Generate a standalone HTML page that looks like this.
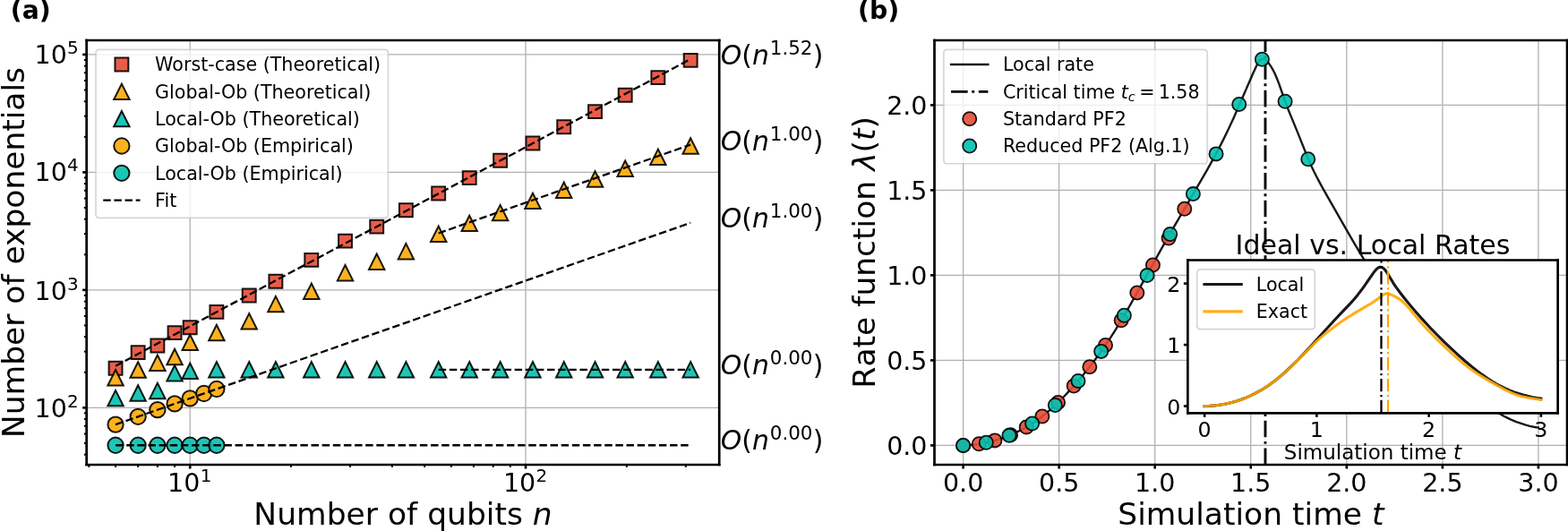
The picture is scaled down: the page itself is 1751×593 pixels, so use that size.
<!DOCTYPE html>
<html><head><meta charset="utf-8"><style>
html,body{margin:0;padding:0;background:#fff;}
body{width:1751px;height:593px;overflow:hidden;}
svg{display:block;}
text{font-family:"DejaVu Sans",sans-serif;}
</style></head><body>
<svg width="1751" height="593" viewBox="0 0 1751 593">
 
 <defs>
  <style type="text/css">*{stroke-linejoin: round; stroke-linecap: butt}</style>
 </defs>
 <g id="figure_1">
  <g id="patch_1">
   <path d="M 0 593 
L 1751 593 
L 1751 0 
L 0 0 
z
" style="fill: #ffffff"/>
  </g>
  <g id="axes_1">
   <g id="patch_2">
    <path d="M 96.66 519 
L 803.21 519 
L 803.21 45 
L 96.66 45 
z
" style="fill: #ffffff"/>
   </g>
   <g id="matplotlib.axis_1">
    <g id="xtick_1">
     <g id="line2d_1">
      <path d="M 212.2 519 
L 212.2 45 
" clip-path="url(#p42ef47f563)" style="fill: none; stroke: #b0b0b0; stroke-width: 1.3; stroke-linecap: square"/>
     </g>
     <g id="line2d_2">
      
      <g>
       <path d="M 0 0 
L 0 4.5 
" transform="translate(212.2 519)" style="stroke: #000000; stroke-width: 2.6"/>
      </g>
     </g>
     <g id="text_1">
      
      <g transform="translate(187.12 549.1000)">
       <text>
        <tspan x="0" y="-0.1" style="font-size: 28.5px; font-family: 'DejaVu Sans'">1</tspan>
        <tspan x="18.132568" y="-0.1" style="font-size: 28.5px; font-family: 'DejaVu Sans'">0</tspan>
        <tspan x="36.542676" y="-11.201563" style="font-size: 19.95px; font-family: 'DejaVu Sans'">1</tspan>
       </text>
      </g>
     </g>
    </g>
    <g id="xtick_2">
     <g id="line2d_3">
      <path d="M 587 519 
L 587 45 
" clip-path="url(#p42ef47f563)" style="fill: none; stroke: #b0b0b0; stroke-width: 1.3; stroke-linecap: square"/>
     </g>
     <g id="line2d_4">
      <g>
       <path d="M 0 0 
L 0 4.5 
" transform="translate(587 519)" style="stroke: #000000; stroke-width: 2.6"/>
      </g>
     </g>
     <g id="text_2">
      
      <g transform="translate(561.92 549.8266)">
       <text>
        <tspan x="0" y="-0.826563" style="font-size: 28.5px; font-family: 'DejaVu Sans'">1</tspan>
        <tspan x="18.132568" y="-0.826563" style="font-size: 28.5px; font-family: 'DejaVu Sans'">0</tspan>
        <tspan x="36.542676" y="-11.928125" style="font-size: 19.95px; font-family: 'DejaVu Sans'">2</tspan>
       </text>
      </g>
     </g>
    </g>
    <g id="xtick_3">
     <g id="line2d_5">
      
      <g>
       <path d="M 0 0 
L 0 2.8 
" transform="translate(99.373958 519)" style="stroke: #000000; stroke-width: 2"/>
      </g>
     </g>
    </g>
    <g id="xtick_4">
     <g id="line2d_6">
      <g>
       <path d="M 0 0 
L 0 2.8 
" transform="translate(129.051089 519)" style="stroke: #000000; stroke-width: 2"/>
      </g>
     </g>
    </g>
    <g id="xtick_5">
     <g id="line2d_7">
      <g>
       <path d="M 0 0 
L 0 2.8 
" transform="translate(154.142745 519)" style="stroke: #000000; stroke-width: 2"/>
      </g>
     </g>
    </g>
    <g id="xtick_6">
     <g id="line2d_8">
      <g>
       <path d="M 0 0 
L 0 2.8 
" transform="translate(175.878127 519)" style="stroke: #000000; stroke-width: 2"/>
      </g>
     </g>
    </g>
    <g id="xtick_7">
     <g id="line2d_9">
      <g>
       <path d="M 0 0 
L 0 2.8 
" transform="translate(195.050093 519)" style="stroke: #000000; stroke-width: 2"/>
      </g>
     </g>
    </g>
    <g id="xtick_8">
     <g id="line2d_10">
      <g>
       <path d="M 0 0 
L 0 2.8 
" transform="translate(325.026042 519)" style="stroke: #000000; stroke-width: 2"/>
      </g>
     </g>
    </g>
    <g id="xtick_9">
     <g id="line2d_11">
      <g>
       <path d="M 0 0 
L 0 2.8 
" transform="translate(391.025046 519)" style="stroke: #000000; stroke-width: 2"/>
      </g>
     </g>
    </g>
    <g id="xtick_10">
     <g id="line2d_12">
      <g>
       <path d="M 0 0 
L 0 2.8 
" transform="translate(437.852085 519)" style="stroke: #000000; stroke-width: 2"/>
      </g>
     </g>
    </g>
    <g id="xtick_11">
     <g id="line2d_13">
      <g>
       <path d="M 0 0 
L 0 2.8 
" transform="translate(474.173958 519)" style="stroke: #000000; stroke-width: 2"/>
      </g>
     </g>
    </g>
    <g id="xtick_12">
     <g id="line2d_14">
      <g>
       <path d="M 0 0 
L 0 2.8 
" transform="translate(503.851089 519)" style="stroke: #000000; stroke-width: 2"/>
      </g>
     </g>
    </g>
    <g id="xtick_13">
     <g id="line2d_15">
      <g>
       <path d="M 0 0 
L 0 2.8 
" transform="translate(528.942745 519)" style="stroke: #000000; stroke-width: 2"/>
      </g>
     </g>
    </g>
    <g id="xtick_14">
     <g id="line2d_16">
      <g>
       <path d="M 0 0 
L 0 2.8 
" transform="translate(550.678127 519)" style="stroke: #000000; stroke-width: 2"/>
      </g>
     </g>
    </g>
    <g id="xtick_15">
     <g id="line2d_17">
      <g>
       <path d="M 0 0 
L 0 2.8 
" transform="translate(569.850093 519)" style="stroke: #000000; stroke-width: 2"/>
      </g>
     </g>
    </g>
    <g id="xtick_16">
     <g id="line2d_18">
      <g>
       <path d="M 0 0 
L 0 2.8 
" transform="translate(699.826042 519)" style="stroke: #000000; stroke-width: 2"/>
      </g>
     </g>
    </g>
    <g id="xtick_17">
     <g id="line2d_19">
      <g>
       <path d="M 0 0 
L 0 2.8 
" transform="translate(765.825046 519)" style="stroke: #000000; stroke-width: 2"/>
      </g>
     </g>
    </g>
    <g id="text_3">
     
     <g transform="translate(283.36925 585.964656)">
      <text>
       <tspan x="0" y="-0.171875" style="font-size: 34.45px; font-family: 'DejaVu Sans'">N</tspan>
       <tspan x="25.807617" y="-0.171875" style="font-size: 34.45px; font-family: 'DejaVu Sans'">u</tspan>
       <tspan x="47.67334" y="-0.171875" style="font-size: 34.45px; font-family: 'DejaVu Sans'">m</tspan>
       <tspan x="81.280518" y="-0.171875" style="font-size: 34.45px; font-family: 'DejaVu Sans'">b</tspan>
       <tspan x="103.179932" y="-0.171875" style="font-size: 34.45px; font-family: 'DejaVu Sans'">e</tspan>
       <tspan x="124.405518" y="-0.171875" style="font-size: 34.45px; font-family: 'DejaVu Sans'">r</tspan>
       <tspan x="138.5896" y="-0.171875" style="font-size: 34.45px; font-family: 'DejaVu Sans'"> </tspan>
       <tspan x="149.556152" y="-0.171875" style="font-size: 34.45px; font-family: 'DejaVu Sans'">o</tspan>
       <tspan x="170.663818" y="-0.171875" style="font-size: 34.45px; font-family: 'DejaVu Sans'">f</tspan>
       <tspan x="182.80957" y="-0.171875" style="font-size: 34.45px; font-family: 'DejaVu Sans'"> </tspan>
       <tspan x="193.776123" y="-0.171875" style="font-size: 34.45px; font-family: 'DejaVu Sans'">q</tspan>
       <tspan x="215.675537" y="-0.171875" style="font-size: 34.45px; font-family: 'DejaVu Sans'">u</tspan>
       <tspan x="237.54126" y="-0.171875" style="font-size: 34.45px; font-family: 'DejaVu Sans'">b</tspan>
       <tspan x="259.440674" y="-0.171875" style="font-size: 34.45px; font-family: 'DejaVu Sans'">i</tspan>
       <tspan x="269.025879" y="-0.171875" style="font-size: 34.45px; font-family: 'DejaVu Sans'">t</tspan>
       <tspan x="282.552979" y="-0.171875" style="font-size: 34.45px; font-family: 'DejaVu Sans'">s</tspan>
       <tspan x="300.527344" y="-0.171875" style="font-size: 34.45px; font-family: 'DejaVu Sans'"> </tspan>
       <tspan x="311.493896" y="-0.171875" style="font-style: oblique; font-size: 34.45px; font-family: 'DejaVu Sans'">n</tspan>
      </text>
     </g>
    </g>
   </g>
   <g id="matplotlib.axis_2">
    <g id="ytick_1">
     <g id="line2d_20">
      <path d="M 96.66 455.33 
L 803.21 455.33 
" clip-path="url(#p42ef47f563)" style="fill: none; stroke: #b0b0b0; stroke-width: 1.3; stroke-linecap: square"/>
     </g>
     <g id="line2d_21">
      
      <g>
       <path d="M 0 0 
L -4.5 0 
" transform="translate(96.66 455.33)" style="stroke: #000000; stroke-width: 2.6"/>
      </g>
     </g>
     <g id="text_4">
      
      <g transform="translate(38.5 466.8266)">
       <text>
        <tspan x="0" y="-0.826563" style="font-size: 28.5px; font-family: 'DejaVu Sans'">1</tspan>
        <tspan x="18.132568" y="-0.826563" style="font-size: 28.5px; font-family: 'DejaVu Sans'">0</tspan>
        <tspan x="36.542676" y="-11.928125" style="font-size: 19.95px; font-family: 'DejaVu Sans'">2</tspan>
       </text>
      </g>
     </g>
    </g>
    <g id="ytick_2">
     <g id="line2d_22">
      <path d="M 96.66 323.86 
L 803.21 323.86 
" clip-path="url(#p42ef47f563)" style="fill: none; stroke: #b0b0b0; stroke-width: 1.3; stroke-linecap: square"/>
     </g>
     <g id="line2d_23">
      <g>
       <path d="M 0 0 
L -4.5 0 
" transform="translate(96.66 323.86)" style="stroke: #000000; stroke-width: 2.6"/>
      </g>
     </g>
     <g id="text_5">
      
      <g transform="translate(38.5 335.8266)">
       <text>
        <tspan x="0" y="-0.826563" style="font-size: 28.5px; font-family: 'DejaVu Sans'">1</tspan>
        <tspan x="18.132568" y="-0.826563" style="font-size: 28.5px; font-family: 'DejaVu Sans'">0</tspan>
        <tspan x="36.542676" y="-11.928125" style="font-size: 19.95px; font-family: 'DejaVu Sans'">3</tspan>
       </text>
      </g>
     </g>
    </g>
    <g id="ytick_3">
     <g id="line2d_24">
      <path d="M 96.66 192.39 
L 803.21 192.39 
" clip-path="url(#p42ef47f563)" style="fill: none; stroke: #b0b0b0; stroke-width: 1.3; stroke-linecap: square"/>
     </g>
     <g id="line2d_25">
      <g>
       <path d="M 0 0 
L -4.5 0 
" transform="translate(96.66 192.39)" style="stroke: #000000; stroke-width: 2.6"/>
      </g>
     </g>
     <g id="text_6">
      
      <g transform="translate(38.5 202.1000)">
       <text>
        <tspan x="0" y="-0.1" style="font-size: 28.5px; font-family: 'DejaVu Sans'">1</tspan>
        <tspan x="18.132568" y="-0.1" style="font-size: 28.5px; font-family: 'DejaVu Sans'">0</tspan>
        <tspan x="36.542676" y="-11.201563" style="font-size: 19.95px; font-family: 'DejaVu Sans'">4</tspan>
       </text>
      </g>
     </g>
    </g>
    <g id="ytick_4">
     <g id="line2d_26">
      <path d="M 96.66 60.92 
L 803.21 60.92 
" clip-path="url(#p42ef47f563)" style="fill: none; stroke: #b0b0b0; stroke-width: 1.3; stroke-linecap: square"/>
     </g>
     <g id="line2d_27">
      <g>
       <path d="M 0 0 
L -4.5 0 
" transform="translate(96.66 60.92)" style="stroke: #000000; stroke-width: 2.6"/>
      </g>
     </g>
     <g id="text_7">
      
      <g transform="translate(38.5 71.1000)">
       <text>
        <tspan x="0" y="-0.1" style="font-size: 28.5px; font-family: 'DejaVu Sans'">1</tspan>
        <tspan x="18.132568" y="-0.1" style="font-size: 28.5px; font-family: 'DejaVu Sans'">0</tspan>
        <tspan x="36.542676" y="-11.201563" style="font-size: 19.95px; font-family: 'DejaVu Sans'">5</tspan>
       </text>
      </g>
     </g>
    </g>
    <g id="ytick_5">
     <g id="line2d_28">
      
      <g>
       <path d="M 0 0 
L -2.8 0 
" transform="translate(96.66 507.647173)" style="stroke: #000000; stroke-width: 2"/>
      </g>
     </g>
    </g>
    <g id="ytick_6">
     <g id="line2d_29">
      <g>
       <path d="M 0 0 
L -2.8 0 
" transform="translate(96.66 494.906414)" style="stroke: #000000; stroke-width: 2"/>
      </g>
     </g>
    </g>
    <g id="ytick_7">
     <g id="line2d_30">
      <g>
       <path d="M 0 0 
L -2.8 0 
" transform="translate(96.66 484.496455)" style="stroke: #000000; stroke-width: 2"/>
      </g>
     </g>
    </g>
    <g id="ytick_8">
     <g id="line2d_31">
      <g>
       <path d="M 0 0 
L -2.8 0 
" transform="translate(96.66 475.694961)" style="stroke: #000000; stroke-width: 2"/>
      </g>
     </g>
    </g>
    <g id="ytick_9">
     <g id="line2d_32">
      <g>
       <path d="M 0 0 
L -2.8 0 
" transform="translate(96.66 468.070759)" style="stroke: #000000; stroke-width: 2"/>
      </g>
     </g>
    </g>
    <g id="ytick_10">
     <g id="line2d_33">
      <g>
       <path d="M 0 0 
L -2.8 0 
" transform="translate(96.66 461.345737)" style="stroke: #000000; stroke-width: 2"/>
      </g>
     </g>
    </g>
    <g id="ytick_11">
     <g id="line2d_34">
      <g>
       <path d="M 0 0 
L -2.8 0 
" transform="translate(96.66 415.753586)" style="stroke: #000000; stroke-width: 2"/>
      </g>
     </g>
    </g>
    <g id="ytick_12">
     <g id="line2d_35">
      <g>
       <path d="M 0 0 
L -2.8 0 
" transform="translate(96.66 392.602869)" style="stroke: #000000; stroke-width: 2"/>
      </g>
     </g>
    </g>
    <g id="ytick_13">
     <g id="line2d_36">
      <g>
       <path d="M 0 0 
L -2.8 0 
" transform="translate(96.66 376.177173)" style="stroke: #000000; stroke-width: 2"/>
      </g>
     </g>
    </g>
    <g id="ytick_14">
     <g id="line2d_37">
      <g>
       <path d="M 0 0 
L -2.8 0 
" transform="translate(96.66 363.436414)" style="stroke: #000000; stroke-width: 2"/>
      </g>
     </g>
    </g>
    <g id="ytick_15">
     <g id="line2d_38">
      <g>
       <path d="M 0 0 
L -2.8 0 
" transform="translate(96.66 353.026455)" style="stroke: #000000; stroke-width: 2"/>
      </g>
     </g>
    </g>
    <g id="ytick_16">
     <g id="line2d_39">
      <g>
       <path d="M 0 0 
L -2.8 0 
" transform="translate(96.66 344.224961)" style="stroke: #000000; stroke-width: 2"/>
      </g>
     </g>
    </g>
    <g id="ytick_17">
     <g id="line2d_40">
      <g>
       <path d="M 0 0 
L -2.8 0 
" transform="translate(96.66 336.600759)" style="stroke: #000000; stroke-width: 2"/>
      </g>
     </g>
    </g>
    <g id="ytick_18">
     <g id="line2d_41">
      <g>
       <path d="M 0 0 
L -2.8 0 
" transform="translate(96.66 329.875737)" style="stroke: #000000; stroke-width: 2"/>
      </g>
     </g>
    </g>
    <g id="ytick_19">
     <g id="line2d_42">
      <g>
       <path d="M 0 0 
L -2.8 0 
" transform="translate(96.66 284.283586)" style="stroke: #000000; stroke-width: 2"/>
      </g>
     </g>
    </g>
    <g id="ytick_20">
     <g id="line2d_43">
      <g>
       <path d="M 0 0 
L -2.8 0 
" transform="translate(96.66 261.132869)" style="stroke: #000000; stroke-width: 2"/>
      </g>
     </g>
    </g>
    <g id="ytick_21">
     <g id="line2d_44">
      <g>
       <path d="M 0 0 
L -2.8 0 
" transform="translate(96.66 244.707173)" style="stroke: #000000; stroke-width: 2"/>
      </g>
     </g>
    </g>
    <g id="ytick_22">
     <g id="line2d_45">
      <g>
       <path d="M 0 0 
L -2.8 0 
" transform="translate(96.66 231.966414)" style="stroke: #000000; stroke-width: 2"/>
      </g>
     </g>
    </g>
    <g id="ytick_23">
     <g id="line2d_46">
      <g>
       <path d="M 0 0 
L -2.8 0 
" transform="translate(96.66 221.556455)" style="stroke: #000000; stroke-width: 2"/>
      </g>
     </g>
    </g>
    <g id="ytick_24">
     <g id="line2d_47">
      <g>
       <path d="M 0 0 
L -2.8 0 
" transform="translate(96.66 212.754961)" style="stroke: #000000; stroke-width: 2"/>
      </g>
     </g>
    </g>
    <g id="ytick_25">
     <g id="line2d_48">
      <g>
       <path d="M 0 0 
L -2.8 0 
" transform="translate(96.66 205.130759)" style="stroke: #000000; stroke-width: 2"/>
      </g>
     </g>
    </g>
    <g id="ytick_26">
     <g id="line2d_49">
      <g>
       <path d="M 0 0 
L -2.8 0 
" transform="translate(96.66 198.405737)" style="stroke: #000000; stroke-width: 2"/>
      </g>
     </g>
    </g>
    <g id="ytick_27">
     <g id="line2d_50">
      <g>
       <path d="M 0 0 
L -2.8 0 
" transform="translate(96.66 152.813586)" style="stroke: #000000; stroke-width: 2"/>
      </g>
     </g>
    </g>
    <g id="ytick_28">
     <g id="line2d_51">
      <g>
       <path d="M 0 0 
L -2.8 0 
" transform="translate(96.66 129.662869)" style="stroke: #000000; stroke-width: 2"/>
      </g>
     </g>
    </g>
    <g id="ytick_29">
     <g id="line2d_52">
      <g>
       <path d="M 0 0 
L -2.8 0 
" transform="translate(96.66 113.237173)" style="stroke: #000000; stroke-width: 2"/>
      </g>
     </g>
    </g>
    <g id="ytick_30">
     <g id="line2d_53">
      <g>
       <path d="M 0 0 
L -2.8 0 
" transform="translate(96.66 100.496414)" style="stroke: #000000; stroke-width: 2"/>
      </g>
     </g>
    </g>
    <g id="ytick_31">
     <g id="line2d_54">
      <g>
       <path d="M 0 0 
L -2.8 0 
" transform="translate(96.66 90.086455)" style="stroke: #000000; stroke-width: 2"/>
      </g>
     </g>
    </g>
    <g id="ytick_32">
     <g id="line2d_55">
      <g>
       <path d="M 0 0 
L -2.8 0 
" transform="translate(96.66 81.284961)" style="stroke: #000000; stroke-width: 2"/>
      </g>
     </g>
    </g>
    <g id="ytick_33">
     <g id="line2d_56">
      <g>
       <path d="M 0 0 
L -2.8 0 
" transform="translate(96.66 73.660759)" style="stroke: #000000; stroke-width: 2"/>
      </g>
     </g>
    </g>
    <g id="ytick_34">
     <g id="line2d_57">
      <g>
       <path d="M 0 0 
L -2.8 0 
" transform="translate(96.66 66.935737)" style="stroke: #000000; stroke-width: 2"/>
      </g>
     </g>
    </g>
    <g id="text_8">
     <text style="font-size: 34.45px; font-family: 'DejaVu Sans'; text-anchor: middle" x="27.335477" y="282" transform="rotate(-90 27.335477 282)">Number of exponentials</text>
    </g>
   </g>
   <g id="line2d_58">
    
    <g clip-path="url(#p42ef47f563)">
     <path d="M -7.45 7.45 
L 7.45 7.45 
L 7.45 -7.45 
L -7.45 -7.45 
z
" transform="translate(129.051089 411.3)" style="fill: #e64b35; fill-opacity: 0.9; stroke: #000000; stroke-opacity: 0.9; stroke-width: 2; stroke-linejoin: miter"/>
     <path d="M -7.45 7.45 
L 7.45 7.45 
L 7.45 -7.45 
L -7.45 -7.45 
z
" transform="translate(154.142745 393.6)" style="fill: #e64b35; fill-opacity: 0.9; stroke: #000000; stroke-opacity: 0.9; stroke-width: 2; stroke-linejoin: miter"/>
     <path d="M -7.45 7.45 
L 7.45 7.45 
L 7.45 -7.45 
L -7.45 -7.45 
z
" transform="translate(175.878127 386)" style="fill: #e64b35; fill-opacity: 0.9; stroke: #000000; stroke-opacity: 0.9; stroke-width: 2; stroke-linejoin: miter"/>
     <path d="M -7.45 7.45 
L 7.45 7.45 
L 7.45 -7.45 
L -7.45 -7.45 
z
" transform="translate(195.050093 371.6)" style="fill: #e64b35; fill-opacity: 0.9; stroke: #000000; stroke-opacity: 0.9; stroke-width: 2; stroke-linejoin: miter"/>
     <path d="M -7.45 7.45 
L 7.45 7.45 
L 7.45 -7.45 
L -7.45 -7.45 
z
" transform="translate(212.2 365.7)" style="fill: #e64b35; fill-opacity: 0.9; stroke: #000000; stroke-opacity: 0.9; stroke-width: 2; stroke-linejoin: miter"/>
     <path d="M -7.45 7.45 
L 7.45 7.45 
L 7.45 -7.45 
L -7.45 -7.45 
z
" transform="translate(241.877131 348.4)" style="fill: #e64b35; fill-opacity: 0.9; stroke: #000000; stroke-opacity: 0.9; stroke-width: 2; stroke-linejoin: miter"/>
     <path d="M -7.45 7.45 
L 7.45 7.45 
L 7.45 -7.45 
L -7.45 -7.45 
z
" transform="translate(278.199004 330)" style="fill: #e64b35; fill-opacity: 0.9; stroke: #000000; stroke-opacity: 0.9; stroke-width: 2; stroke-linejoin: miter"/>
     <path d="M -7.45 7.45 
L 7.45 7.45 
L 7.45 -7.45 
L -7.45 -7.45 
z
" transform="translate(307.876135 314.2)" style="fill: #e64b35; fill-opacity: 0.9; stroke: #000000; stroke-opacity: 0.9; stroke-width: 2; stroke-linejoin: miter"/>
     <path d="M -7.45 7.45 
L 7.45 7.45 
L 7.45 -7.45 
L -7.45 -7.45 
z
" transform="translate(347.775593 290.4)" style="fill: #e64b35; fill-opacity: 0.9; stroke: #000000; stroke-opacity: 0.9; stroke-width: 2; stroke-linejoin: miter"/>
     <path d="M -7.45 7.45 
L 7.45 7.45 
L 7.45 -7.45 
L -7.45 -7.45 
z
" transform="translate(385.50677 269.1)" style="fill: #e64b35; fill-opacity: 0.9; stroke: #000000; stroke-opacity: 0.9; stroke-width: 2; stroke-linejoin: miter"/>
     <path d="M -7.45 7.45 
L 7.45 7.45 
L 7.45 -7.45 
L -7.45 -7.45 
z
" transform="translate(420.702177 253.1)" style="fill: #e64b35; fill-opacity: 0.9; stroke: #000000; stroke-opacity: 0.9; stroke-width: 2; stroke-linejoin: miter"/>
     <path d="M -7.45 7.45 
L 7.45 7.45 
L 7.45 -7.45 
L -7.45 -7.45 
z
" transform="translate(453.366063 234.7)" style="fill: #e64b35; fill-opacity: 0.9; stroke: #000000; stroke-opacity: 0.9; stroke-width: 2; stroke-linejoin: miter"/>
     <path d="M -7.45 7.45 
L 7.45 7.45 
L 7.45 -7.45 
L -7.45 -7.45 
z
" transform="translate(489.687936 216)" style="fill: #e64b35; fill-opacity: 0.9; stroke: #000000; stroke-opacity: 0.9; stroke-width: 2; stroke-linejoin: miter"/>
     <path d="M -7.45 7.45 
L 7.45 7.45 
L 7.45 -7.45 
L -7.45 -7.45 
z
" transform="translate(524.22434 198.6)" style="fill: #e64b35; fill-opacity: 0.9; stroke: #000000; stroke-opacity: 0.9; stroke-width: 2; stroke-linejoin: miter"/>
     <path d="M -7.45 7.45 
L 7.45 7.45 
L 7.45 -7.45 
L -7.45 -7.45 
z
" transform="translate(558.619876 179.2)" style="fill: #e64b35; fill-opacity: 0.9; stroke: #000000; stroke-opacity: 0.9; stroke-width: 2; stroke-linejoin: miter"/>
     <path d="M -7.45 7.45 
L 7.45 7.45 
L 7.45 -7.45 
L -7.45 -7.45 
z
" transform="translate(594.941749 160)" style="fill: #e64b35; fill-opacity: 0.9; stroke: #000000; stroke-opacity: 0.9; stroke-width: 2; stroke-linejoin: miter"/>
     <path d="M -7.45 7.45 
L 7.45 7.45 
L 7.45 -7.45 
L -7.45 -7.45 
z
" transform="translate(629.705968 141.8)" style="fill: #e64b35; fill-opacity: 0.9; stroke: #000000; stroke-opacity: 0.9; stroke-width: 2; stroke-linejoin: miter"/>
     <path d="M -7.45 7.45 
L 7.45 7.45 
L 7.45 -7.45 
L -7.45 -7.45 
z
" transform="translate(664.518338 124.6)" style="fill: #e64b35; fill-opacity: 0.9; stroke: #000000; stroke-opacity: 0.9; stroke-width: 2; stroke-linejoin: miter"/>
     <path d="M -7.45 7.45 
L 7.45 7.45 
L 7.45 -7.45 
L -7.45 -7.45 
z
" transform="translate(698.190113 106.3)" style="fill: #e64b35; fill-opacity: 0.9; stroke: #000000; stroke-opacity: 0.9; stroke-width: 2; stroke-linejoin: miter"/>
     <path d="M -7.45 7.45 
L 7.45 7.45 
L 7.45 -7.45 
L -7.45 -7.45 
z
" transform="translate(734.84049 86.6)" style="fill: #e64b35; fill-opacity: 0.9; stroke: #000000; stroke-opacity: 0.9; stroke-width: 2; stroke-linejoin: miter"/>
     <path d="M -7.45 7.45 
L 7.45 7.45 
L 7.45 -7.45 
L -7.45 -7.45 
z
" transform="translate(771.162363 67.4)" style="fill: #e64b35; fill-opacity: 0.9; stroke: #000000; stroke-opacity: 0.9; stroke-width: 2; stroke-linejoin: miter"/>
    </g>
   </g>
   <g id="line2d_59">
    
    <g clip-path="url(#p42ef47f563)">
     <path d="M 0 -8.7 
L -8.7 8.7 
L 8.7 8.7 
z
" transform="translate(129.051089 421.8)" style="fill: #fda905; fill-opacity: 0.9; stroke: #000000; stroke-opacity: 0.9; stroke-width: 2; stroke-linejoin: miter"/>
     <path d="M 0 -8.7 
L -8.7 8.7 
L 8.7 8.7 
z
" transform="translate(154.142745 413)" style="fill: #fda905; fill-opacity: 0.9; stroke: #000000; stroke-opacity: 0.9; stroke-width: 2; stroke-linejoin: miter"/>
     <path d="M 0 -8.7 
L -8.7 8.7 
L 8.7 8.7 
z
" transform="translate(175.878127 405.2)" style="fill: #fda905; fill-opacity: 0.9; stroke: #000000; stroke-opacity: 0.9; stroke-width: 2; stroke-linejoin: miter"/>
     <path d="M 0 -8.7 
L -8.7 8.7 
L 8.7 8.7 
z
" transform="translate(195.050093 398.5)" style="fill: #fda905; fill-opacity: 0.9; stroke: #000000; stroke-opacity: 0.9; stroke-width: 2; stroke-linejoin: miter"/>
     <path d="M 0 -8.7 
L -8.7 8.7 
L 8.7 8.7 
z
" transform="translate(212.2 382.4)" style="fill: #fda905; fill-opacity: 0.9; stroke: #000000; stroke-opacity: 0.9; stroke-width: 2; stroke-linejoin: miter"/>
     <path d="M 0 -8.7 
L -8.7 8.7 
L 8.7 8.7 
z
" transform="translate(241.877131 371.5)" style="fill: #fda905; fill-opacity: 0.9; stroke: #000000; stroke-opacity: 0.9; stroke-width: 2; stroke-linejoin: miter"/>
     <path d="M 0 -8.7 
L -8.7 8.7 
L 8.7 8.7 
z
" transform="translate(278.199004 358.8)" style="fill: #fda905; fill-opacity: 0.9; stroke: #000000; stroke-opacity: 0.9; stroke-width: 2; stroke-linejoin: miter"/>
     <path d="M 0 -8.7 
L -8.7 8.7 
L 8.7 8.7 
z
" transform="translate(307.876135 339.6)" style="fill: #fda905; fill-opacity: 0.9; stroke: #000000; stroke-opacity: 0.9; stroke-width: 2; stroke-linejoin: miter"/>
     <path d="M 0 -8.7 
L -8.7 8.7 
L 8.7 8.7 
z
" transform="translate(347.775593 325.3)" style="fill: #fda905; fill-opacity: 0.9; stroke: #000000; stroke-opacity: 0.9; stroke-width: 2; stroke-linejoin: miter"/>
     <path d="M 0 -8.7 
L -8.7 8.7 
L 8.7 8.7 
z
" transform="translate(385.50677 304.7)" style="fill: #fda905; fill-opacity: 0.9; stroke: #000000; stroke-opacity: 0.9; stroke-width: 2; stroke-linejoin: miter"/>
     <path d="M 0 -8.7 
L -8.7 8.7 
L 8.7 8.7 
z
" transform="translate(420.702177 292.2)" style="fill: #fda905; fill-opacity: 0.9; stroke: #000000; stroke-opacity: 0.9; stroke-width: 2; stroke-linejoin: miter"/>
     <path d="M 0 -8.7 
L -8.7 8.7 
L 8.7 8.7 
z
" transform="translate(453.366063 280.7)" style="fill: #fda905; fill-opacity: 0.9; stroke: #000000; stroke-opacity: 0.9; stroke-width: 2; stroke-linejoin: miter"/>
     <path d="M 0 -8.7 
L -8.7 8.7 
L 8.7 8.7 
z
" transform="translate(489.687936 261.3)" style="fill: #fda905; fill-opacity: 0.9; stroke: #000000; stroke-opacity: 0.9; stroke-width: 2; stroke-linejoin: miter"/>
     <path d="M 0 -8.7 
L -8.7 8.7 
L 8.7 8.7 
z
" transform="translate(524.22434 249.4)" style="fill: #fda905; fill-opacity: 0.9; stroke: #000000; stroke-opacity: 0.9; stroke-width: 2; stroke-linejoin: miter"/>
     <path d="M 0 -8.7 
L -8.7 8.7 
L 8.7 8.7 
z
" transform="translate(558.619876 237.6)" style="fill: #fda905; fill-opacity: 0.9; stroke: #000000; stroke-opacity: 0.9; stroke-width: 2; stroke-linejoin: miter"/>
     <path d="M 0 -8.7 
L -8.7 8.7 
L 8.7 8.7 
z
" transform="translate(594.941749 224.4)" style="fill: #fda905; fill-opacity: 0.9; stroke: #000000; stroke-opacity: 0.9; stroke-width: 2; stroke-linejoin: miter"/>
     <path d="M 0 -8.7 
L -8.7 8.7 
L 8.7 8.7 
z
" transform="translate(629.705968 212.3)" style="fill: #fda905; fill-opacity: 0.9; stroke: #000000; stroke-opacity: 0.9; stroke-width: 2; stroke-linejoin: miter"/>
     <path d="M 0 -8.7 
L -8.7 8.7 
L 8.7 8.7 
z
" transform="translate(664.518338 200)" style="fill: #fda905; fill-opacity: 0.9; stroke: #000000; stroke-opacity: 0.9; stroke-width: 2; stroke-linejoin: miter"/>
     <path d="M 0 -8.7 
L -8.7 8.7 
L 8.7 8.7 
z
" transform="translate(698.190113 188.2)" style="fill: #fda905; fill-opacity: 0.9; stroke: #000000; stroke-opacity: 0.9; stroke-width: 2; stroke-linejoin: miter"/>
     <path d="M 0 -8.7 
L -8.7 8.7 
L 8.7 8.7 
z
" transform="translate(734.84049 175.3)" style="fill: #fda905; fill-opacity: 0.9; stroke: #000000; stroke-opacity: 0.9; stroke-width: 2; stroke-linejoin: miter"/>
     <path d="M 0 -8.7 
L -8.7 8.7 
L 8.7 8.7 
z
" transform="translate(771.162363 163)" style="fill: #fda905; fill-opacity: 0.9; stroke: #000000; stroke-opacity: 0.9; stroke-width: 2; stroke-linejoin: miter"/>
    </g>
   </g>
   <g id="line2d_60">
    
    <g clip-path="url(#p42ef47f563)">
     <path d="M 0 -8.7 
L -8.7 8.7 
L 8.7 8.7 
z
" transform="translate(129.051089 444.6)" style="fill: #03c0ae; fill-opacity: 0.9; stroke: #000000; stroke-opacity: 0.9; stroke-width: 2; stroke-linejoin: miter"/>
     <path d="M 0 -8.7 
L -8.7 8.7 
L 8.7 8.7 
z
" transform="translate(154.142745 439)" style="fill: #03c0ae; fill-opacity: 0.9; stroke: #000000; stroke-opacity: 0.9; stroke-width: 2; stroke-linejoin: miter"/>
     <path d="M 0 -8.7 
L -8.7 8.7 
L 8.7 8.7 
z
" transform="translate(175.878127 436.5)" style="fill: #03c0ae; fill-opacity: 0.9; stroke: #000000; stroke-opacity: 0.9; stroke-width: 2; stroke-linejoin: miter"/>
     <path d="M 0 -8.7 
L -8.7 8.7 
L 8.7 8.7 
z
" transform="translate(195.050093 416.7)" style="fill: #03c0ae; fill-opacity: 0.9; stroke: #000000; stroke-opacity: 0.9; stroke-width: 2; stroke-linejoin: miter"/>
     <path d="M 0 -8.7 
L -8.7 8.7 
L 8.7 8.7 
z
" transform="translate(212.2 414.3)" style="fill: #03c0ae; fill-opacity: 0.9; stroke: #000000; stroke-opacity: 0.9; stroke-width: 2; stroke-linejoin: miter"/>
     <path d="M 0 -8.7 
L -8.7 8.7 
L 8.7 8.7 
z
" transform="translate(241.877131 412.8)" style="fill: #03c0ae; fill-opacity: 0.9; stroke: #000000; stroke-opacity: 0.9; stroke-width: 2; stroke-linejoin: miter"/>
     <path d="M 0 -8.7 
L -8.7 8.7 
L 8.7 8.7 
z
" transform="translate(278.199004 412.8)" style="fill: #03c0ae; fill-opacity: 0.9; stroke: #000000; stroke-opacity: 0.9; stroke-width: 2; stroke-linejoin: miter"/>
     <path d="M 0 -8.7 
L -8.7 8.7 
L 8.7 8.7 
z
" transform="translate(307.876135 412.8)" style="fill: #03c0ae; fill-opacity: 0.9; stroke: #000000; stroke-opacity: 0.9; stroke-width: 2; stroke-linejoin: miter"/>
     <path d="M 0 -8.7 
L -8.7 8.7 
L 8.7 8.7 
z
" transform="translate(347.775593 412.8)" style="fill: #03c0ae; fill-opacity: 0.9; stroke: #000000; stroke-opacity: 0.9; stroke-width: 2; stroke-linejoin: miter"/>
     <path d="M 0 -8.7 
L -8.7 8.7 
L 8.7 8.7 
z
" transform="translate(385.50677 412.8)" style="fill: #03c0ae; fill-opacity: 0.9; stroke: #000000; stroke-opacity: 0.9; stroke-width: 2; stroke-linejoin: miter"/>
     <path d="M 0 -8.7 
L -8.7 8.7 
L 8.7 8.7 
z
" transform="translate(420.702177 412.8)" style="fill: #03c0ae; fill-opacity: 0.9; stroke: #000000; stroke-opacity: 0.9; stroke-width: 2; stroke-linejoin: miter"/>
     <path d="M 0 -8.7 
L -8.7 8.7 
L 8.7 8.7 
z
" transform="translate(453.366063 412.8)" style="fill: #03c0ae; fill-opacity: 0.9; stroke: #000000; stroke-opacity: 0.9; stroke-width: 2; stroke-linejoin: miter"/>
     <path d="M 0 -8.7 
L -8.7 8.7 
L 8.7 8.7 
z
" transform="translate(489.687936 412.8)" style="fill: #03c0ae; fill-opacity: 0.9; stroke: #000000; stroke-opacity: 0.9; stroke-width: 2; stroke-linejoin: miter"/>
     <path d="M 0 -8.7 
L -8.7 8.7 
L 8.7 8.7 
z
" transform="translate(524.22434 412.8)" style="fill: #03c0ae; fill-opacity: 0.9; stroke: #000000; stroke-opacity: 0.9; stroke-width: 2; stroke-linejoin: miter"/>
     <path d="M 0 -8.7 
L -8.7 8.7 
L 8.7 8.7 
z
" transform="translate(558.619876 412.8)" style="fill: #03c0ae; fill-opacity: 0.9; stroke: #000000; stroke-opacity: 0.9; stroke-width: 2; stroke-linejoin: miter"/>
     <path d="M 0 -8.7 
L -8.7 8.7 
L 8.7 8.7 
z
" transform="translate(594.941749 412.8)" style="fill: #03c0ae; fill-opacity: 0.9; stroke: #000000; stroke-opacity: 0.9; stroke-width: 2; stroke-linejoin: miter"/>
     <path d="M 0 -8.7 
L -8.7 8.7 
L 8.7 8.7 
z
" transform="translate(629.705968 412.8)" style="fill: #03c0ae; fill-opacity: 0.9; stroke: #000000; stroke-opacity: 0.9; stroke-width: 2; stroke-linejoin: miter"/>
     <path d="M 0 -8.7 
L -8.7 8.7 
L 8.7 8.7 
z
" transform="translate(664.518338 412.8)" style="fill: #03c0ae; fill-opacity: 0.9; stroke: #000000; stroke-opacity: 0.9; stroke-width: 2; stroke-linejoin: miter"/>
     <path d="M 0 -8.7 
L -8.7 8.7 
L 8.7 8.7 
z
" transform="translate(698.190113 412.8)" style="fill: #03c0ae; fill-opacity: 0.9; stroke: #000000; stroke-opacity: 0.9; stroke-width: 2; stroke-linejoin: miter"/>
     <path d="M 0 -8.7 
L -8.7 8.7 
L 8.7 8.7 
z
" transform="translate(734.84049 412.8)" style="fill: #03c0ae; fill-opacity: 0.9; stroke: #000000; stroke-opacity: 0.9; stroke-width: 2; stroke-linejoin: miter"/>
     <path d="M 0 -8.7 
L -8.7 8.7 
L 8.7 8.7 
z
" transform="translate(771.162363 412.8)" style="fill: #03c0ae; fill-opacity: 0.9; stroke: #000000; stroke-opacity: 0.9; stroke-width: 2; stroke-linejoin: miter"/>
    </g>
   </g>
   <g id="line2d_61">
    
    <g clip-path="url(#p42ef47f563)">
     <path d="M 0 8.65 
C 2.294007 8.65 4.494366 7.738581 6.116474 6.116474 
C 7.738581 4.494366 8.65 2.294007 8.65 0 
C 8.65 -2.294007 7.738581 -4.494366 6.116474 -6.116474 
C 4.494366 -7.738581 2.294007 -8.65 0 -8.65 
C -2.294007 -8.65 -4.494366 -7.738581 -6.116474 -6.116474 
C -7.738581 -4.494366 -8.65 -2.294007 -8.65 0 
C -8.65 2.294007 -7.738581 4.494366 -6.116474 6.116474 
C -4.494366 7.738581 -2.294007 8.65 0 8.65 
z
" transform="translate(129.051089 474.086497)" style="fill: #fda905; fill-opacity: 0.9; stroke: #000000; stroke-opacity: 0.9; stroke-width: 2"/>
     <path d="M 0 8.65 
C 2.294007 8.65 4.494366 7.738581 6.116474 6.116474 
C 7.738581 4.494366 8.65 2.294007 8.65 0 
C 8.65 -2.294007 7.738581 -4.494366 6.116474 -6.116474 
C 4.494366 -7.738581 2.294007 -8.65 0 -8.65 
C -2.294007 -8.65 -4.494366 -7.738581 -6.116474 -6.116474 
C -7.738581 -4.494366 -8.65 -2.294007 -8.65 0 
C -8.65 2.294007 -7.738581 4.494366 -6.116474 6.116474 
C -4.494366 7.738581 -2.294007 8.65 0 8.65 
z
" transform="translate(154.142745 465.285002)" style="fill: #fda905; fill-opacity: 0.9; stroke: #000000; stroke-opacity: 0.9; stroke-width: 2"/>
     <path d="M 0 8.65 
C 2.294007 8.65 4.494366 7.738581 6.116474 6.116474 
C 7.738581 4.494366 8.65 2.294007 8.65 0 
C 8.65 -2.294007 7.738581 -4.494366 6.116474 -6.116474 
C 4.494366 -7.738581 2.294007 -8.65 0 -8.65 
C -2.294007 -8.65 -4.494366 -7.738581 -6.116474 -6.116474 
C -7.738581 -4.494366 -8.65 -2.294007 -8.65 0 
C -8.65 2.294007 -7.738581 4.494366 -6.116474 6.116474 
C -4.494366 7.738581 -2.294007 8.65 0 8.65 
z
" transform="translate(175.878127 457.660801)" style="fill: #fda905; fill-opacity: 0.9; stroke: #000000; stroke-opacity: 0.9; stroke-width: 2"/>
     <path d="M 0 8.65 
C 2.294007 8.65 4.494366 7.738581 6.116474 6.116474 
C 7.738581 4.494366 8.65 2.294007 8.65 0 
C 8.65 -2.294007 7.738581 -4.494366 6.116474 -6.116474 
C 4.494366 -7.738581 2.294007 -8.65 0 -8.65 
C -2.294007 -8.65 -4.494366 -7.738581 -6.116474 -6.116474 
C -7.738581 -4.494366 -8.65 -2.294007 -8.65 0 
C -8.65 2.294007 -7.738581 4.494366 -6.116474 6.116474 
C -4.494366 7.738581 -2.294007 8.65 0 8.65 
z
" transform="translate(195.050093 450.935779)" style="fill: #fda905; fill-opacity: 0.9; stroke: #000000; stroke-opacity: 0.9; stroke-width: 2"/>
     <path d="M 0 8.65 
C 2.294007 8.65 4.494366 7.738581 6.116474 6.116474 
C 7.738581 4.494366 8.65 2.294007 8.65 0 
C 8.65 -2.294007 7.738581 -4.494366 6.116474 -6.116474 
C 4.494366 -7.738581 2.294007 -8.65 0 -8.65 
C -2.294007 -8.65 -4.494366 -7.738581 -6.116474 -6.116474 
C -7.738581 -4.494366 -8.65 -2.294007 -8.65 0 
C -8.65 2.294007 -7.738581 4.494366 -6.116474 6.116474 
C -4.494366 7.738581 -2.294007 8.65 0 8.65 
z
" transform="translate(212.2 444.920042)" style="fill: #fda905; fill-opacity: 0.9; stroke: #000000; stroke-opacity: 0.9; stroke-width: 2"/>
     <path d="M 0 8.65 
C 2.294007 8.65 4.494366 7.738581 6.116474 6.116474 
C 7.738581 4.494366 8.65 2.294007 8.65 0 
C 8.65 -2.294007 7.738581 -4.494366 6.116474 -6.116474 
C 4.494366 -7.738581 2.294007 -8.65 0 -8.65 
C -2.294007 -8.65 -4.494366 -7.738581 -6.116474 -6.116474 
C -7.738581 -4.494366 -8.65 -2.294007 -8.65 0 
C -8.65 2.294007 -7.738581 4.494366 -6.116474 6.116474 
C -4.494366 7.738581 -2.294007 8.65 0 8.65 
z
" transform="translate(227.713978 439.478145)" style="fill: #fda905; fill-opacity: 0.9; stroke: #000000; stroke-opacity: 0.9; stroke-width: 2"/>
     <path d="M 0 8.65 
C 2.294007 8.65 4.494366 7.738581 6.116474 6.116474 
C 7.738581 4.494366 8.65 2.294007 8.65 0 
C 8.65 -2.294007 7.738581 -4.494366 6.116474 -6.116474 
C 4.494366 -7.738581 2.294007 -8.65 0 -8.65 
C -2.294007 -8.65 -4.494366 -7.738581 -6.116474 -6.116474 
C -7.738581 -4.494366 -8.65 -2.294007 -8.65 0 
C -8.65 2.294007 -7.738581 4.494366 -6.116474 6.116474 
C -4.494366 7.738581 -2.294007 8.65 0 8.65 
z
" transform="translate(241.877131 434.510083)" style="fill: #fda905; fill-opacity: 0.9; stroke: #000000; stroke-opacity: 0.9; stroke-width: 2"/>
    </g>
   </g>
   <g id="line2d_62">
    
    <g clip-path="url(#p42ef47f563)">
     <path d="M 0 8.65 
C 2.294007 8.65 4.494366 7.738581 6.116474 6.116474 
C 7.738581 4.494366 8.65 2.294007 8.65 0 
C 8.65 -2.294007 7.738581 -4.494366 6.116474 -6.116474 
C 4.494366 -7.738581 2.294007 -8.65 0 -8.65 
C -2.294007 -8.65 -4.494366 -7.738581 -6.116474 -6.116474 
C -7.738581 -4.494366 -8.65 -2.294007 -8.65 0 
C -8.65 2.294007 -7.738581 4.494366 -6.116474 6.116474 
C -4.494366 7.738581 -2.294007 8.65 0 8.65 
z
" transform="translate(129.051089 497.237215)" style="fill: #03c0ae; fill-opacity: 0.9; stroke: #000000; stroke-opacity: 0.9; stroke-width: 2"/>
     <path d="M 0 8.65 
C 2.294007 8.65 4.494366 7.738581 6.116474 6.116474 
C 7.738581 4.494366 8.65 2.294007 8.65 0 
C 8.65 -2.294007 7.738581 -4.494366 6.116474 -6.116474 
C 4.494366 -7.738581 2.294007 -8.65 0 -8.65 
C -2.294007 -8.65 -4.494366 -7.738581 -6.116474 -6.116474 
C -7.738581 -4.494366 -8.65 -2.294007 -8.65 0 
C -8.65 2.294007 -7.738581 4.494366 -6.116474 6.116474 
C -4.494366 7.738581 -2.294007 8.65 0 8.65 
z
" transform="translate(154.142745 497.237215)" style="fill: #03c0ae; fill-opacity: 0.9; stroke: #000000; stroke-opacity: 0.9; stroke-width: 2"/>
     <path d="M 0 8.65 
C 2.294007 8.65 4.494366 7.738581 6.116474 6.116474 
C 7.738581 4.494366 8.65 2.294007 8.65 0 
C 8.65 -2.294007 7.738581 -4.494366 6.116474 -6.116474 
C 4.494366 -7.738581 2.294007 -8.65 0 -8.65 
C -2.294007 -8.65 -4.494366 -7.738581 -6.116474 -6.116474 
C -7.738581 -4.494366 -8.65 -2.294007 -8.65 0 
C -8.65 2.294007 -7.738581 4.494366 -6.116474 6.116474 
C -4.494366 7.738581 -2.294007 8.65 0 8.65 
z
" transform="translate(175.878127 497.237215)" style="fill: #03c0ae; fill-opacity: 0.9; stroke: #000000; stroke-opacity: 0.9; stroke-width: 2"/>
     <path d="M 0 8.65 
C 2.294007 8.65 4.494366 7.738581 6.116474 6.116474 
C 7.738581 4.494366 8.65 2.294007 8.65 0 
C 8.65 -2.294007 7.738581 -4.494366 6.116474 -6.116474 
C 4.494366 -7.738581 2.294007 -8.65 0 -8.65 
C -2.294007 -8.65 -4.494366 -7.738581 -6.116474 -6.116474 
C -7.738581 -4.494366 -8.65 -2.294007 -8.65 0 
C -8.65 2.294007 -7.738581 4.494366 -6.116474 6.116474 
C -4.494366 7.738581 -2.294007 8.65 0 8.65 
z
" transform="translate(195.050093 497.237215)" style="fill: #03c0ae; fill-opacity: 0.9; stroke: #000000; stroke-opacity: 0.9; stroke-width: 2"/>
     <path d="M 0 8.65 
C 2.294007 8.65 4.494366 7.738581 6.116474 6.116474 
C 7.738581 4.494366 8.65 2.294007 8.65 0 
C 8.65 -2.294007 7.738581 -4.494366 6.116474 -6.116474 
C 4.494366 -7.738581 2.294007 -8.65 0 -8.65 
C -2.294007 -8.65 -4.494366 -7.738581 -6.116474 -6.116474 
C -7.738581 -4.494366 -8.65 -2.294007 -8.65 0 
C -8.65 2.294007 -7.738581 4.494366 -6.116474 6.116474 
C -4.494366 7.738581 -2.294007 8.65 0 8.65 
z
" transform="translate(212.2 497.237215)" style="fill: #03c0ae; fill-opacity: 0.9; stroke: #000000; stroke-opacity: 0.9; stroke-width: 2"/>
     <path d="M 0 8.65 
C 2.294007 8.65 4.494366 7.738581 6.116474 6.116474 
C 7.738581 4.494366 8.65 2.294007 8.65 0 
C 8.65 -2.294007 7.738581 -4.494366 6.116474 -6.116474 
C 4.494366 -7.738581 2.294007 -8.65 0 -8.65 
C -2.294007 -8.65 -4.494366 -7.738581 -6.116474 -6.116474 
C -7.738581 -4.494366 -8.65 -2.294007 -8.65 0 
C -8.65 2.294007 -7.738581 4.494366 -6.116474 6.116474 
C -4.494366 7.738581 -2.294007 8.65 0 8.65 
z
" transform="translate(227.713978 497.237215)" style="fill: #03c0ae; fill-opacity: 0.9; stroke: #000000; stroke-opacity: 0.9; stroke-width: 2"/>
     <path d="M 0 8.65 
C 2.294007 8.65 4.494366 7.738581 6.116474 6.116474 
C 7.738581 4.494366 8.65 2.294007 8.65 0 
C 8.65 -2.294007 7.738581 -4.494366 6.116474 -6.116474 
C 4.494366 -7.738581 2.294007 -8.65 0 -8.65 
C -2.294007 -8.65 -4.494366 -7.738581 -6.116474 -6.116474 
C -7.738581 -4.494366 -8.65 -2.294007 -8.65 0 
C -8.65 2.294007 -7.738581 4.494366 -6.116474 6.116474 
C -4.494366 7.738581 -2.294007 8.65 0 8.65 
z
" transform="translate(241.877131 497.237215)" style="fill: #03c0ae; fill-opacity: 0.9; stroke: #000000; stroke-opacity: 0.9; stroke-width: 2"/>
    </g>
   </g>
   <g id="patch_3">
    <path d="M 96.66 519 
L 96.66 45 
" style="fill: none; stroke: #000000; stroke-width: 2.7; stroke-linejoin: miter; stroke-linecap: square"/>
   </g>
   <g id="patch_4">
    <path d="M 803.21 519 
L 803.21 45 
" style="fill: none; stroke: #000000; stroke-width: 2.7; stroke-linejoin: miter; stroke-linecap: square"/>
   </g>
   <g id="patch_5">
    <path d="M 96.66 519 
L 803.21 519 
" style="fill: none; stroke: #000000; stroke-width: 2.7; stroke-linejoin: miter; stroke-linecap: square"/>
   </g>
   <g id="patch_6">
    <path d="M 96.66 45 
L 803.21 45 
" style="fill: none; stroke: #000000; stroke-width: 2.7; stroke-linejoin: miter; stroke-linecap: square"/>
   </g>
   <g id="line2d_63">
    <path d="M 129.051089 408.7 
L 771.162363 66 
" clip-path="url(#p42ef47f563)" style="fill: none; stroke-dasharray: 8.473,3.664; stroke-dashoffset: 0; stroke: #000000; stroke-width: 2.29"/>
   </g>
   <g id="line2d_64">
    <path d="M 489.687936 260.5 
L 771.162363 161.6 
" clip-path="url(#p42ef47f563)" style="fill: none; stroke-dasharray: 8.473,3.664; stroke-dashoffset: 0; stroke: #000000; stroke-width: 2.29"/>
   </g>
   <g id="line2d_65">
    <path d="M 129.051089 474.086497 
L 771.162363 248.85072 
" clip-path="url(#p42ef47f563)" style="fill: none; stroke-dasharray: 8.473,3.664; stroke-dashoffset: 0; stroke: #000000; stroke-width: 2.29"/>
   </g>
   <g id="line2d_66">
    <path d="M 489.687936 412.8 
L 771.162363 412.8 
" clip-path="url(#p42ef47f563)" style="fill: none; stroke-dasharray: 8.473,3.664; stroke-dashoffset: 0; stroke: #000000; stroke-width: 2.29"/>
   </g>
   <g id="line2d_67">
    <path d="M 129.051089 497.237215 
L 771.162363 497.237215 
" clip-path="url(#p42ef47f563)" style="fill: none; stroke-dasharray: 8.473,3.664; stroke-dashoffset: 0; stroke: #000000; stroke-width: 2.29"/>
   </g>
   <g id="legend_1">
    <g id="patch_7">
     <path d="M 111.115 243.381969 
L 429.325047 243.381969 
Q 433.455047 243.381969 433.455047 239.251969 
L 433.455047 59.455 
Q 433.455047 55.325 429.325047 55.325 
L 111.115 55.325 
Q 106.985 55.325 106.985 59.455 
L 106.985 239.251969 
Q 106.985 243.381969 111.115 243.381969 
z
" style="fill: #ffffff; opacity: 0.8; stroke: #cccccc; stroke-width: 1.66; stroke-linejoin: miter"/>
    </g>
    <g id="line2d_68">
     <g>
      <path d="M -7.45 7.45 
L 7.45 7.45 
L 7.45 -7.45 
L -7.45 -7.45 
z
" transform="translate(135.895 72.048273)" style="fill: #e64b35; fill-opacity: 0.9; stroke: #000000; stroke-opacity: 0.9; stroke-width: 2; stroke-linejoin: miter"/>
     </g>
    </g>
    <g id="text_9">
     <text style="font-size: 20.65px; font-family: 'DejaVu Sans'; text-anchor: start" x="173.065" y="79.275773" transform="rotate(-0 173.065 79.275773)">Worst-case (Theoretical)</text>
    </g>
    <g id="line2d_69">
     <g>
      <path d="M 0 -8.7 
L -8.7 8.7 
L 8.7 8.7 
z
" transform="translate(135.895 102.358602)" style="fill: #fda905; fill-opacity: 0.9; stroke: #000000; stroke-opacity: 0.9; stroke-width: 2; stroke-linejoin: miter"/>
     </g>
    </g>
    <g id="text_10">
     <text style="font-size: 20.65px; font-family: 'DejaVu Sans'; text-anchor: start" x="173.065" y="109.586102" transform="rotate(-0 173.065 109.586102)">Global-Ob (Theoretical)</text>
    </g>
    <g id="line2d_70">
     <g>
      <path d="M 0 -8.7 
L -8.7 8.7 
L 8.7 8.7 
z
" transform="translate(135.895 132.66893)" style="fill: #03c0ae; fill-opacity: 0.9; stroke: #000000; stroke-opacity: 0.9; stroke-width: 2; stroke-linejoin: miter"/>
     </g>
    </g>
    <g id="text_11">
     <text style="font-size: 20.65px; font-family: 'DejaVu Sans'; text-anchor: start" x="173.065" y="139.89643" transform="rotate(-0 173.065 139.89643)">Local-Ob (Theoretical)</text>
    </g>
    <g id="line2d_71">
     <g>
      <path d="M 0 8.65 
C 2.294007 8.65 4.494366 7.738581 6.116474 6.116474 
C 7.738581 4.494366 8.65 2.294007 8.65 0 
C 8.65 -2.294007 7.738581 -4.494366 6.116474 -6.116474 
C 4.494366 -7.738581 2.294007 -8.65 0 -8.65 
C -2.294007 -8.65 -4.494366 -7.738581 -6.116474 -6.116474 
C -7.738581 -4.494366 -8.65 -2.294007 -8.65 0 
C -8.65 2.294007 -7.738581 4.494366 -6.116474 6.116474 
C -4.494366 7.738581 -2.294007 8.65 0 8.65 
z
" transform="translate(135.895 162.979258)" style="fill: #fda905; fill-opacity: 0.9; stroke: #000000; stroke-opacity: 0.9; stroke-width: 2"/>
     </g>
    </g>
    <g id="text_12">
     <text style="font-size: 20.65px; font-family: 'DejaVu Sans'; text-anchor: start" x="173.065" y="170.206758" transform="rotate(-0 173.065 170.206758)">Global-Ob (Empirical)</text>
    </g>
    <g id="line2d_72">
     <g>
      <path d="M 0 8.65 
C 2.294007 8.65 4.494366 7.738581 6.116474 6.116474 
C 7.738581 4.494366 8.65 2.294007 8.65 0 
C 8.65 -2.294007 7.738581 -4.494366 6.116474 -6.116474 
C 4.494366 -7.738581 2.294007 -8.65 0 -8.65 
C -2.294007 -8.65 -4.494366 -7.738581 -6.116474 -6.116474 
C -7.738581 -4.494366 -8.65 -2.294007 -8.65 0 
C -8.65 2.294007 -7.738581 4.494366 -6.116474 6.116474 
C -4.494366 7.738581 -2.294007 8.65 0 8.65 
z
" transform="translate(135.895 193.289586)" style="fill: #03c0ae; fill-opacity: 0.9; stroke: #000000; stroke-opacity: 0.9; stroke-width: 2"/>
     </g>
    </g>
    <g id="text_13">
     <text style="font-size: 20.65px; font-family: 'DejaVu Sans'; text-anchor: start" x="173.065" y="200.517086" transform="rotate(-0 173.065 200.517086)">Local-Ob (Empirical)</text>
    </g>
    <g id="line2d_73">
     <path d="M 115.245 223.599914 
L 135.895 223.599914 
L 156.545 223.599914 
" style="fill: none; stroke-dasharray: 8.473,3.664; stroke-dashoffset: 0; stroke: #000000; stroke-width: 2.29"/>
    </g>
    <g id="text_14">
     <text style="font-size: 20.65px; font-family: 'DejaVu Sans'; text-anchor: start" x="173.065" y="230.827414" transform="rotate(-0 173.065 230.827414)">Fit</text>
    </g>
   </g>
  </g>
  <g id="axes_2">
   <g id="patch_8">
    <path d="M 1043.5 519 
L 1750.05 519 
L 1750.05 45 
L 1043.5 45 
z
" style="fill: #ffffff"/>
   </g>
   <g id="matplotlib.axis_3">
    <g id="xtick_18">
     <g id="line2d_74">
      <path d="M 1075.615909 519 
L 1075.615909 45 
" clip-path="url(#p05086c891c)" style="fill: none; stroke: #b0b0b0; stroke-width: 1.3; stroke-linecap: square"/>
     </g>
     <g id="line2d_75">
      <g>
       <path d="M 0 0 
L 0 4.5 
" transform="translate(1075.615909 519)" style="stroke: #000000; stroke-width: 2.6"/>
      </g>
     </g>
     <g id="text_15">
      <text style="font-size: 28.5px; font-family: 'DejaVu Sans'; text-anchor: middle" x="1075.615909" y="548.655547" transform="rotate(-0 1075.615909 548.655547)">0.0</text>
     </g>
    </g>
    <g id="xtick_19">
     <g id="line2d_76">
      <path d="M 1182.668939 519 
L 1182.668939 45 
" clip-path="url(#p05086c891c)" style="fill: none; stroke: #b0b0b0; stroke-width: 1.3; stroke-linecap: square"/>
     </g>
     <g id="line2d_77">
      <g>
       <path d="M 0 0 
L 0 4.5 
" transform="translate(1182.668939 519)" style="stroke: #000000; stroke-width: 2.6"/>
      </g>
     </g>
     <g id="text_16">
      <text style="font-size: 28.5px; font-family: 'DejaVu Sans'; text-anchor: middle" x="1182.668939" y="548.655547" transform="rotate(-0 1182.668939 548.655547)">0.5</text>
     </g>
    </g>
    <g id="xtick_20">
     <g id="line2d_78">
      <path d="M 1289.72197 519 
L 1289.72197 45 
" clip-path="url(#p05086c891c)" style="fill: none; stroke: #b0b0b0; stroke-width: 1.3; stroke-linecap: square"/>
     </g>
     <g id="line2d_79">
      <g>
       <path d="M 0 0 
L 0 4.5 
" transform="translate(1289.72197 519)" style="stroke: #000000; stroke-width: 2.6"/>
      </g>
     </g>
     <g id="text_17">
      <text style="font-size: 28.5px; font-family: 'DejaVu Sans'; text-anchor: middle" x="1289.72197" y="548.655547" transform="rotate(-0 1289.72197 548.655547)">1.0</text>
     </g>
    </g>
    <g id="xtick_21">
     <g id="line2d_80">
      <path d="M 1396.775 519 
L 1396.775 45 
" clip-path="url(#p05086c891c)" style="fill: none; stroke: #b0b0b0; stroke-width: 1.3; stroke-linecap: square"/>
     </g>
     <g id="line2d_81">
      <g>
       <path d="M 0 0 
L 0 4.5 
" transform="translate(1396.775 519)" style="stroke: #000000; stroke-width: 2.6"/>
      </g>
     </g>
     <g id="text_18">
      <text style="font-size: 28.5px; font-family: 'DejaVu Sans'; text-anchor: middle" x="1396.775" y="548.655547" transform="rotate(-0 1396.775 548.655547)">1.5</text>
     </g>
    </g>
    <g id="xtick_22">
     <g id="line2d_82">
      <path d="M 1503.82803 519 
L 1503.82803 45 
" clip-path="url(#p05086c891c)" style="fill: none; stroke: #b0b0b0; stroke-width: 1.3; stroke-linecap: square"/>
     </g>
     <g id="line2d_83">
      <g>
       <path d="M 0 0 
L 0 4.5 
" transform="translate(1503.82803 519)" style="stroke: #000000; stroke-width: 2.6"/>
      </g>
     </g>
     <g id="text_19">
      <text style="font-size: 28.5px; font-family: 'DejaVu Sans'; text-anchor: middle" x="1503.82803" y="548.655547" transform="rotate(-0 1503.82803 548.655547)">2.0</text>
     </g>
    </g>
    <g id="xtick_23">
     <g id="line2d_84">
      <path d="M 1610.881061 519 
L 1610.881061 45 
" clip-path="url(#p05086c891c)" style="fill: none; stroke: #b0b0b0; stroke-width: 1.3; stroke-linecap: square"/>
     </g>
     <g id="line2d_85">
      <g>
       <path d="M 0 0 
L 0 4.5 
" transform="translate(1610.881061 519)" style="stroke: #000000; stroke-width: 2.6"/>
      </g>
     </g>
     <g id="text_20">
      <text style="font-size: 28.5px; font-family: 'DejaVu Sans'; text-anchor: middle" x="1610.881061" y="548.655547" transform="rotate(-0 1610.881061 548.655547)">2.5</text>
     </g>
    </g>
    <g id="xtick_24">
     <g id="line2d_86">
      <path d="M 1717.934091 519 
L 1717.934091 45 
" clip-path="url(#p05086c891c)" style="fill: none; stroke: #b0b0b0; stroke-width: 1.3; stroke-linecap: square"/>
     </g>
     <g id="line2d_87">
      <g>
       <path d="M 0 0 
L 0 4.5 
" transform="translate(1717.934091 519)" style="stroke: #000000; stroke-width: 2.6"/>
      </g>
     </g>
     <g id="text_21">
      <text style="font-size: 28.5px; font-family: 'DejaVu Sans'; text-anchor: middle" x="1717.934091" y="548.655547" transform="rotate(-0 1717.934091 548.655547)">3.0</text>
     </g>
    </g>
    <g id="text_22">
     
     <g transform="translate(1248.2955 585.959273)">
      <text>
       <tspan x="0" y="-0.171875" style="font-size: 34.45px; font-family: 'DejaVu Sans'">S</tspan>
       <tspan x="21.899414" y="-0.171875" style="font-size: 34.45px; font-family: 'DejaVu Sans'">i</tspan>
       <tspan x="31.484619" y="-0.171875" style="font-size: 34.45px; font-family: 'DejaVu Sans'">m</tspan>
       <tspan x="65.091797" y="-0.171875" style="font-size: 34.45px; font-family: 'DejaVu Sans'">u</tspan>
       <tspan x="86.95752" y="-0.171875" style="font-size: 34.45px; font-family: 'DejaVu Sans'">l</tspan>
       <tspan x="96.542725" y="-0.171875" style="font-size: 34.45px; font-family: 'DejaVu Sans'">a</tspan>
       <tspan x="117.684082" y="-0.171875" style="font-size: 34.45px; font-family: 'DejaVu Sans'">t</tspan>
       <tspan x="131.211182" y="-0.171875" style="font-size: 34.45px; font-family: 'DejaVu Sans'">i</tspan>
       <tspan x="140.796387" y="-0.171875" style="font-size: 34.45px; font-family: 'DejaVu Sans'">o</tspan>
       <tspan x="161.904053" y="-0.171875" style="font-size: 34.45px; font-family: 'DejaVu Sans'">n</tspan>
       <tspan x="183.769775" y="-0.171875" style="font-size: 34.45px; font-family: 'DejaVu Sans'"> </tspan>
       <tspan x="194.736328" y="-0.171875" style="font-size: 34.45px; font-family: 'DejaVu Sans'">t</tspan>
       <tspan x="208.263428" y="-0.171875" style="font-size: 34.45px; font-family: 'DejaVu Sans'">i</tspan>
       <tspan x="217.848633" y="-0.171875" style="font-size: 34.45px; font-family: 'DejaVu Sans'">m</tspan>
       <tspan x="251.455811" y="-0.171875" style="font-size: 34.45px; font-family: 'DejaVu Sans'">e</tspan>
       <tspan x="272.681396" y="-0.171875" style="font-size: 34.45px; font-family: 'DejaVu Sans'"> </tspan>
       <tspan x="283.647949" y="-0.171875" style="font-style: oblique; font-size: 34.45px; font-family: 'DejaVu Sans'">t</tspan>
      </text>
     </g>
    </g>
   </g>
   <g id="matplotlib.axis_4">
    <g id="ytick_35">
     <g id="line2d_88">
      <path d="M 1043.5 497.396681 
L 1750.05 497.396681 
" clip-path="url(#p05086c891c)" style="fill: none; stroke: #b0b0b0; stroke-width: 1.3; stroke-linecap: square"/>
     </g>
     <g id="line2d_89">
      <g>
       <path d="M 0 0 
L -4.5 0 
" transform="translate(1043.5 497.396681)" style="stroke: #000000; stroke-width: 2.6"/>
      </g>
     </g>
     <g id="text_23">
      <text style="font-size: 28.5px; font-family: 'DejaVu Sans'; text-anchor: end" x="1035.5" y="508.224454" transform="rotate(-0 1035.5 508.224454)">0.0</text>
     </g>
    </g>
    <g id="ytick_36">
     <g id="line2d_90">
      <path d="M 1043.5 402.395278 
L 1750.05 402.395278 
" clip-path="url(#p05086c891c)" style="fill: none; stroke: #b0b0b0; stroke-width: 1.3; stroke-linecap: square"/>
     </g>
     <g id="line2d_91">
      <g>
       <path d="M 0 0 
L -4.5 0 
" transform="translate(1043.5 402.395278)" style="stroke: #000000; stroke-width: 2.6"/>
      </g>
     </g>
     <g id="text_24">
      <text style="font-size: 28.5px; font-family: 'DejaVu Sans'; text-anchor: end" x="1035.5" y="413.223051" transform="rotate(-0 1035.5 413.223051)">0.5</text>
     </g>
    </g>
    <g id="ytick_37">
     <g id="line2d_92">
      <path d="M 1043.5 307.393875 
L 1750.05 307.393875 
" clip-path="url(#p05086c891c)" style="fill: none; stroke: #b0b0b0; stroke-width: 1.3; stroke-linecap: square"/>
     </g>
     <g id="line2d_93">
      <g>
       <path d="M 0 0 
L -4.5 0 
" transform="translate(1043.5 307.393875)" style="stroke: #000000; stroke-width: 2.6"/>
      </g>
     </g>
     <g id="text_25">
      <text style="font-size: 28.5px; font-family: 'DejaVu Sans'; text-anchor: end" x="1035.5" y="318.221648" transform="rotate(-0 1035.5 318.221648)">1.0</text>
     </g>
    </g>
    <g id="ytick_38">
     <g id="line2d_94">
      <path d="M 1043.5 212.392472 
L 1750.05 212.392472 
" clip-path="url(#p05086c891c)" style="fill: none; stroke: #b0b0b0; stroke-width: 1.3; stroke-linecap: square"/>
     </g>
     <g id="line2d_95">
      <g>
       <path d="M 0 0 
L -4.5 0 
" transform="translate(1043.5 212.392472)" style="stroke: #000000; stroke-width: 2.6"/>
      </g>
     </g>
     <g id="text_26">
      <text style="font-size: 28.5px; font-family: 'DejaVu Sans'; text-anchor: end" x="1035.5" y="223.220245" transform="rotate(-0 1035.5 223.220245)">1.5</text>
     </g>
    </g>
    <g id="ytick_39">
     <g id="line2d_96">
      <path d="M 1043.5 117.391069 
L 1750.05 117.391069 
" clip-path="url(#p05086c891c)" style="fill: none; stroke: #b0b0b0; stroke-width: 1.3; stroke-linecap: square"/>
     </g>
     <g id="line2d_97">
      <g>
       <path d="M 0 0 
L -4.5 0 
" transform="translate(1043.5 117.391069)" style="stroke: #000000; stroke-width: 2.6"/>
      </g>
     </g>
     <g id="text_27">
      <text style="font-size: 28.5px; font-family: 'DejaVu Sans'; text-anchor: end" x="1035.5" y="128.218843" transform="rotate(-0 1035.5 128.218843)">2.0</text>
     </g>
    </g>
    <g id="text_28">
     
     <g transform="translate(977.51157 433.58) rotate(-90)">
      <text>
       <tspan x="0" y="-0.171875" style="font-size: 34.45px; font-family: 'DejaVu Sans'">R</tspan>
       <tspan x="23.971436" y="-0.171875" style="font-size: 34.45px; font-family: 'DejaVu Sans'">a</tspan>
       <tspan x="45.112793" y="-0.171875" style="font-size: 34.45px; font-family: 'DejaVu Sans'">t</tspan>
       <tspan x="58.639893" y="-0.171875" style="font-size: 34.45px; font-family: 'DejaVu Sans'">e</tspan>
       <tspan x="79.865479" y="-0.171875" style="font-size: 34.45px; font-family: 'DejaVu Sans'"> </tspan>
       <tspan x="90.832031" y="-0.171875" style="font-size: 34.45px; font-family: 'DejaVu Sans'">f</tspan>
       <tspan x="102.977783" y="-0.171875" style="font-size: 34.45px; font-family: 'DejaVu Sans'">u</tspan>
       <tspan x="124.843506" y="-0.171875" style="font-size: 34.45px; font-family: 'DejaVu Sans'">n</tspan>
       <tspan x="146.709229" y="-0.171875" style="font-size: 34.45px; font-family: 'DejaVu Sans'">c</tspan>
       <tspan x="165.67749" y="-0.171875" style="font-size: 34.45px; font-family: 'DejaVu Sans'">t</tspan>
       <tspan x="179.20459" y="-0.171875" style="font-size: 34.45px; font-family: 'DejaVu Sans'">i</tspan>
       <tspan x="188.789795" y="-0.171875" style="font-size: 34.45px; font-family: 'DejaVu Sans'">o</tspan>
       <tspan x="209.897461" y="-0.171875" style="font-size: 34.45px; font-family: 'DejaVu Sans'">n</tspan>
       <tspan x="231.763184" y="-0.171875" style="font-size: 34.45px; font-family: 'DejaVu Sans'"> </tspan>
       <tspan x="263.146729" y="-0.171875" style="font-size: 34.45px; font-family: 'DejaVu Sans'">(</tspan>
       <tspan x="290.133545" y="-0.171875" style="font-size: 34.45px; font-family: 'DejaVu Sans'">)</tspan>
       <tspan x="242.729736" y="-0.171875" style="font-style: oblique; font-size: 34.45px; font-family: 'DejaVu Sans'">λ</tspan>
       <tspan x="276.606445" y="-0.171875" style="font-style: oblique; font-size: 34.45px; font-family: 'DejaVu Sans'">t</tspan>
      </text>
     </g>
    </g>
   </g>
   <g id="line2d_98">
    <path d="M 1075.615909 497.401432 
L 1080.968561 497.180358 
L 1086.321212 496.734237 
L 1091.673864 496.066342 
L 1097.026515 495.179946 
L 1102.379167 494.078321 
L 1107.731818 492.764738 
L 1113.08447 491.242472 
L 1118.437121 489.514794 
L 1123.789773 487.581571 
L 1129.142424 485.429051 
L 1134.495076 483.040075 
L 1139.847727 480.397484 
L 1145.200379 477.48412 
L 1150.55303 474.282826 
L 1155.905682 470.776441 
L 1161.258333 466.947809 
L 1166.610985 462.78491 
L 1171.963636 458.296286 
L 1177.316288 453.495617 
L 1182.668939 448.396586 
L 1188.021591 443.012873 
L 1194.444773 436.195899 
L 1200.867955 429.012325 
L 1207.291136 421.484712 
L 1213.714318 413.610768 
L 1220.1375 405.363353 
L 1226.560682 396.714248 
L 1232.983864 387.63523 
L 1239.407045 378.098078 
L 1244.759697 369.78013 
L 1250.112348 361.110825 
L 1256.53553 350.284786 
L 1264.029242 337.199482 
L 1273.664015 319.906024 
L 1297.215682 277.424931 
L 1310.062045 254.927689 
L 1326.12 227.314453 
L 1347.530606 190.559084 
L 1355.024318 177.123116 
L 1361.4475 165.087407 
L 1366.800152 154.58149 
L 1372.152803 143.553744 
L 1377.505455 131.924574 
L 1383.928636 117.287935 
L 1398.916061 82.718068 
L 1403.198182 73.442619 
L 1405.339242 69.561761 
L 1406.409773 68.043617 
L 1407.480303 66.900082 
L 1408.550833 66.181622 
L 1409.621364 65.861317 
L 1410.691894 65.892896 
L 1411.762424 66.230091 
L 1412.832955 66.826633 
L 1413.903485 67.636252 
L 1414.974015 68.619775 
L 1417.115076 71.07248 
L 1419.256136 74.148118 
L 1421.397197 77.818156 
L 1423.538258 82.077072 
L 1425.679318 86.942352 
L 1427.820379 92.42652 
L 1431.03197 101.498291 
L 1435.314091 113.784226 
L 1438.525682 122.190023 
L 1442.807803 132.584371 
L 1448.160455 145.615336 
L 1461.006818 177.794608 
L 1464.218409 185.015468 
L 1467.43 191.768449 
L 1471.712121 200.188694 
L 1475.994242 208.122954 
L 1483.487955 221.432298 
L 1502.7575 255.212208 
L 1513.462803 273.527658 
L 1523.097576 289.601742 
L 1532.732348 305.239539 
L 1541.296591 318.736108 
L 1549.860833 331.817959 
L 1557.354545 342.867958 
L 1563.777727 351.9756 
L 1570.200909 360.687429 
L 1575.553561 367.603913 
L 1580.906212 374.173144 
L 1586.258864 380.362222 
L 1590.540985 385.017829 
L 1595.893636 390.475337 
L 1601.246288 395.609661 
L 1607.66947 401.472863 
L 1630.150606 421.643871 
L 1635.503258 426.864166 
L 1645.13803 436.679281 
L 1652.631742 444.219001 
L 1657.984394 449.301993 
L 1662.266515 453.071661 
L 1666.548636 456.496712 
L 1670.830758 459.556711 
L 1675.112879 462.285244 
L 1679.395 464.718248 
L 1683.677121 466.891656 
L 1687.959242 468.841406 
L 1693.311894 471.01882 
L 1698.664545 472.971313 
L 1704.017197 474.697684 
L 1708.299318 475.854701 
L 1712.581439 476.75837 
L 1715.79303 477.239785 
L 1717.934091 477.455516 
L 1717.934091 477.455516 
" clip-path="url(#p05086c891c)" style="fill: none; stroke: #000000; stroke-opacity: 0.9; stroke-width: 2.4; stroke-linecap: square"/>
   </g>
   <g id="line2d_99">
    <path d="M 1412.982829 519 
L 1412.982829 45 
" clip-path="url(#p05086c891c)" style="fill: none; stroke-dasharray: 18.56,4.64,2.9,4.64; stroke-dashoffset: 0; stroke: #000000; stroke-width: 2.9"/>
   </g>
   <g id="patch_9">
    <path d="M 1043.5 519 
L 1043.5 45 
" style="fill: none; stroke: #000000; stroke-width: 2.7; stroke-linejoin: miter; stroke-linecap: square"/>
   </g>
   <g id="patch_10">
    <path d="M 1750.05 519 
L 1750.05 45 
" style="fill: none; stroke: #000000; stroke-width: 2.7; stroke-linejoin: miter; stroke-linecap: square"/>
   </g>
   <g id="patch_11">
    <path d="M 1043.5 519 
L 1750.05 519 
" style="fill: none; stroke: #000000; stroke-width: 2.7; stroke-linejoin: miter; stroke-linecap: square"/>
   </g>
   <g id="patch_12">
    <path d="M 1043.5 45 
L 1750.05 45 
" style="fill: none; stroke: #000000; stroke-width: 2.7; stroke-linejoin: miter; stroke-linecap: square"/>
   </g>
   <g id="line2d_100">
    
    <g clip-path="url(#p05086c891c)">
     <path d="M 0 7.6 
C 2.015544 7.6 3.948807 6.799216 5.374012 5.374012 
C 6.799216 3.948807 7.6 2.015544 7.6 0 
C 7.6 -2.015544 6.799216 -3.948807 5.374012 -5.374012 
C 3.948807 -6.799216 2.015544 -7.6 0 -7.6 
C -2.015544 -7.6 -3.948807 -6.799216 -5.374012 -5.374012 
C -6.799216 -3.948807 -7.6 -2.015544 -7.6 0 
C -7.6 2.015544 -6.799216 3.948807 -5.374012 5.374012 
C -3.948807 6.799216 -2.015544 7.6 0 7.6 
z
" transform="translate(1075.615909 497.401432)" style="fill: #e64b35; fill-opacity: 0.9; stroke: #000000; stroke-opacity: 0.9; stroke-width: 1.8"/>
     <path d="M 0 7.6 
C 2.015544 7.6 3.948807 6.799216 5.374012 5.374012 
C 6.799216 3.948807 7.6 2.015544 7.6 0 
C 7.6 -2.015544 6.799216 -3.948807 5.374012 -5.374012 
C 3.948807 -6.799216 2.015544 -7.6 0 -7.6 
C -2.015544 -7.6 -3.948807 -6.799216 -5.374012 -5.374012 
C -6.799216 -3.948807 -7.6 -2.015544 -7.6 0 
C -7.6 2.015544 -6.799216 3.948807 -5.374012 5.374012 
C -3.948807 6.799216 -2.015544 7.6 0 7.6 
z
" transform="translate(1093.268954 495.824903)" style="fill: #e64b35; fill-opacity: 0.9; stroke: #000000; stroke-opacity: 0.9; stroke-width: 1.8"/>
     <path d="M 0 7.6 
C 2.015544 7.6 3.948807 6.799216 5.374012 5.374012 
C 6.799216 3.948807 7.6 2.015544 7.6 0 
C 7.6 -2.015544 6.799216 -3.948807 5.374012 -5.374012 
C 3.948807 -6.799216 2.015544 -7.6 0 -7.6 
C -2.015544 -7.6 -3.948807 -6.799216 -5.374012 -5.374012 
C -6.799216 -3.948807 -7.6 -2.015544 -7.6 0 
C -7.6 2.015544 -6.799216 3.948807 -5.374012 5.374012 
C -3.948807 6.799216 -2.015544 7.6 0 7.6 
z
" transform="translate(1110.921998 491.882382)" style="fill: #e64b35; fill-opacity: 0.9; stroke: #000000; stroke-opacity: 0.9; stroke-width: 1.8"/>
     <path d="M 0 7.6 
C 2.015544 7.6 3.948807 6.799216 5.374012 5.374012 
C 6.799216 3.948807 7.6 2.015544 7.6 0 
C 7.6 -2.015544 6.799216 -3.948807 5.374012 -5.374012 
C 3.948807 -6.799216 2.015544 -7.6 0 -7.6 
C -2.015544 -7.6 -3.948807 -6.799216 -5.374012 -5.374012 
C -6.799216 -3.948807 -7.6 -2.015544 -7.6 0 
C -7.6 2.015544 -6.799216 3.948807 -5.374012 5.374012 
C -3.948807 6.799216 -2.015544 7.6 0 7.6 
z
" transform="translate(1128.575043 485.668122)" style="fill: #e64b35; fill-opacity: 0.9; stroke: #000000; stroke-opacity: 0.9; stroke-width: 1.8"/>
     <path d="M 0 7.6 
C 2.015544 7.6 3.948807 6.799216 5.374012 5.374012 
C 6.799216 3.948807 7.6 2.015544 7.6 0 
C 7.6 -2.015544 6.799216 -3.948807 5.374012 -5.374012 
C 3.948807 -6.799216 2.015544 -7.6 0 -7.6 
C -2.015544 -7.6 -3.948807 -6.799216 -5.374012 -5.374012 
C -6.799216 -3.948807 -7.6 -2.015544 -7.6 0 
C -7.6 2.015544 -6.799216 3.948807 -5.374012 5.374012 
C -3.948807 6.799216 -2.015544 7.6 0 7.6 
z
" transform="translate(1146.228088 476.892335)" style="fill: #e64b35; fill-opacity: 0.9; stroke: #000000; stroke-opacity: 0.9; stroke-width: 1.8"/>
     <path d="M 0 7.6 
C 2.015544 7.6 3.948807 6.799216 5.374012 5.374012 
C 6.799216 3.948807 7.6 2.015544 7.6 0 
C 7.6 -2.015544 6.799216 -3.948807 5.374012 -5.374012 
C 3.948807 -6.799216 2.015544 -7.6 0 -7.6 
C -2.015544 -7.6 -3.948807 -6.799216 -5.374012 -5.374012 
C -6.799216 -3.948807 -7.6 -2.015544 -7.6 0 
C -7.6 2.015544 -6.799216 3.948807 -5.374012 5.374012 
C -3.948807 6.799216 -2.015544 7.6 0 7.6 
z
" transform="translate(1163.881133 464.949548)" style="fill: #e64b35; fill-opacity: 0.9; stroke: #000000; stroke-opacity: 0.9; stroke-width: 1.8"/>
     <path d="M 0 7.6 
C 2.015544 7.6 3.948807 6.799216 5.374012 5.374012 
C 6.799216 3.948807 7.6 2.015544 7.6 0 
C 7.6 -2.015544 6.799216 -3.948807 5.374012 -5.374012 
C 3.948807 -6.799216 2.015544 -7.6 0 -7.6 
C -2.015544 -7.6 -3.948807 -6.799216 -5.374012 -5.374012 
C -6.799216 -3.948807 -7.6 -2.015544 -7.6 0 
C -7.6 2.015544 -6.799216 3.948807 -5.374012 5.374012 
C -3.948807 6.799216 -2.015544 7.6 0 7.6 
z
" transform="translate(1181.534177 449.501821)" style="fill: #e64b35; fill-opacity: 0.9; stroke: #000000; stroke-opacity: 0.9; stroke-width: 1.8"/>
     <path d="M 0 7.6 
C 2.015544 7.6 3.948807 6.799216 5.374012 5.374012 
C 6.799216 3.948807 7.6 2.015544 7.6 0 
C 7.6 -2.015544 6.799216 -3.948807 5.374012 -5.374012 
C 3.948807 -6.799216 2.015544 -7.6 0 -7.6 
C -2.015544 -7.6 -3.948807 -6.799216 -5.374012 -5.374012 
C -6.799216 -3.948807 -7.6 -2.015544 -7.6 0 
C -7.6 2.015544 -6.799216 3.948807 -5.374012 5.374012 
C -3.948807 6.799216 -2.015544 7.6 0 7.6 
z
" transform="translate(1199.187222 430.926117)" style="fill: #e64b35; fill-opacity: 0.9; stroke: #000000; stroke-opacity: 0.9; stroke-width: 1.8"/>
     <path d="M 0 7.6 
C 2.015544 7.6 3.948807 6.799216 5.374012 5.374012 
C 6.799216 3.948807 7.6 2.015544 7.6 0 
C 7.6 -2.015544 6.799216 -3.948807 5.374012 -5.374012 
C 3.948807 -6.799216 2.015544 -7.6 0 -7.6 
C -2.015544 -7.6 -3.948807 -6.799216 -5.374012 -5.374012 
C -6.799216 -3.948807 -7.6 -2.015544 -7.6 0 
C -7.6 2.015544 -6.799216 3.948807 -5.374012 5.374012 
C -3.948807 6.799216 -2.015544 7.6 0 7.6 
z
" transform="translate(1216.840267 409.645424)" style="fill: #e64b35; fill-opacity: 0.9; stroke: #000000; stroke-opacity: 0.9; stroke-width: 1.8"/>
     <path d="M 0 7.6 
C 2.015544 7.6 3.948807 6.799216 5.374012 5.374012 
C 6.799216 3.948807 7.6 2.015544 7.6 0 
C 7.6 -2.015544 6.799216 -3.948807 5.374012 -5.374012 
C 3.948807 -6.799216 2.015544 -7.6 0 -7.6 
C -2.015544 -7.6 -3.948807 -6.799216 -5.374012 -5.374012 
C -6.799216 -3.948807 -7.6 -2.015544 -7.6 0 
C -7.6 2.015544 -6.799216 3.948807 -5.374012 5.374012 
C -3.948807 6.799216 -2.015544 7.6 0 7.6 
z
" transform="translate(1234.493311 385.436224)" style="fill: #e64b35; fill-opacity: 0.9; stroke: #000000; stroke-opacity: 0.9; stroke-width: 1.8"/>
     <path d="M 0 7.6 
C 2.015544 7.6 3.948807 6.799216 5.374012 5.374012 
C 6.799216 3.948807 7.6 2.015544 7.6 0 
C 7.6 -2.015544 6.799216 -3.948807 5.374012 -5.374012 
C 3.948807 -6.799216 2.015544 -7.6 0 -7.6 
C -2.015544 -7.6 -3.948807 -6.799216 -5.374012 -5.374012 
C -6.799216 -3.948807 -7.6 -2.015544 -7.6 0 
C -7.6 2.015544 -6.799216 3.948807 -5.374012 5.374012 
C -3.948807 6.799216 -2.015544 7.6 0 7.6 
z
" transform="translate(1252.146356 357.728357)" style="fill: #e64b35; fill-opacity: 0.9; stroke: #000000; stroke-opacity: 0.9; stroke-width: 1.8"/>
     <path d="M 0 7.6 
C 2.015544 7.6 3.948807 6.799216 5.374012 5.374012 
C 6.799216 3.948807 7.6 2.015544 7.6 0 
C 7.6 -2.015544 6.799216 -3.948807 5.374012 -5.374012 
C 3.948807 -6.799216 2.015544 -7.6 0 -7.6 
C -2.015544 -7.6 -3.948807 -6.799216 -5.374012 -5.374012 
C -6.799216 -3.948807 -7.6 -2.015544 -7.6 0 
C -7.6 2.015544 -6.799216 3.948807 -5.374012 5.374012 
C -3.948807 6.799216 -2.015544 7.6 0 7.6 
z
" transform="translate(1269.799401 326.887008)" style="fill: #e64b35; fill-opacity: 0.9; stroke: #000000; stroke-opacity: 0.9; stroke-width: 1.8"/>
     <path d="M 0 7.6 
C 2.015544 7.6 3.948807 6.799216 5.374012 5.374012 
C 6.799216 3.948807 7.6 2.015544 7.6 0 
C 7.6 -2.015544 6.799216 -3.948807 5.374012 -5.374012 
C 3.948807 -6.799216 2.015544 -7.6 0 -7.6 
C -2.015544 -7.6 -3.948807 -6.799216 -5.374012 -5.374012 
C -6.799216 -3.948807 -7.6 -2.015544 -7.6 0 
C -7.6 2.015544 -6.799216 3.948807 -5.374012 5.374012 
C -3.948807 6.799216 -2.015544 7.6 0 7.6 
z
" transform="translate(1287.452445 295.993707)" style="fill: #e64b35; fill-opacity: 0.9; stroke: #000000; stroke-opacity: 0.9; stroke-width: 1.8"/>
     <path d="M 0 7.6 
C 2.015544 7.6 3.948807 6.799216 5.374012 5.374012 
C 6.799216 3.948807 7.6 2.015544 7.6 0 
C 7.6 -2.015544 6.799216 -3.948807 5.374012 -5.374012 
C 3.948807 -6.799216 2.015544 -7.6 0 -7.6 
C -2.015544 -7.6 -3.948807 -6.799216 -5.374012 -5.374012 
C -6.799216 -3.948807 -7.6 -2.015544 -7.6 0 
C -7.6 2.015544 -6.799216 3.948807 -5.374012 5.374012 
C -3.948807 6.799216 -2.015544 7.6 0 7.6 
z
" transform="translate(1305.10549 266.087265)" style="fill: #e64b35; fill-opacity: 0.9; stroke: #000000; stroke-opacity: 0.9; stroke-width: 1.8"/>
     <path d="M 0 7.6 
C 2.015544 7.6 3.948807 6.799216 5.374012 5.374012 
C 6.799216 3.948807 7.6 2.015544 7.6 0 
C 7.6 -2.015544 6.799216 -3.948807 5.374012 -5.374012 
C 3.948807 -6.799216 2.015544 -7.6 0 -7.6 
C -2.015544 -7.6 -3.948807 -6.799216 -5.374012 -5.374012 
C -6.799216 -3.948807 -7.6 -2.015544 -7.6 0 
C -7.6 2.015544 -6.799216 3.948807 -5.374012 5.374012 
C -3.948807 6.799216 -2.015544 7.6 0 7.6 
z
" transform="translate(1322.758535 233.197779)" style="fill: #e64b35; fill-opacity: 0.9; stroke: #000000; stroke-opacity: 0.9; stroke-width: 1.8"/>
    </g>
   </g>
   <g id="line2d_101">
    
    <g clip-path="url(#p05086c891c)">
     <path d="M 0 7.6 
C 2.015544 7.6 3.948807 6.799216 5.374012 5.374012 
C 6.799216 3.948807 7.6 2.015544 7.6 0 
C 7.6 -2.015544 6.799216 -3.948807 5.374012 -5.374012 
C 3.948807 -6.799216 2.015544 -7.6 0 -7.6 
C -2.015544 -7.6 -3.948807 -6.799216 -5.374012 -5.374012 
C -6.799216 -3.948807 -7.6 -2.015544 -7.6 0 
C -7.6 2.015544 -6.799216 3.948807 -5.374012 5.374012 
C -3.948807 6.799216 -2.015544 7.6 0 7.6 
z
" transform="translate(1075.615909 497.401432)" style="fill: #03c0ae; fill-opacity: 0.9; stroke: #000000; stroke-opacity: 0.9; stroke-width: 1.8"/>
     <path d="M 0 7.6 
C 2.015544 7.6 3.948807 6.799216 5.374012 5.374012 
C 6.799216 3.948807 7.6 2.015544 7.6 0 
C 7.6 -2.015544 6.799216 -3.948807 5.374012 -5.374012 
C 3.948807 -6.799216 2.015544 -7.6 0 -7.6 
C -2.015544 -7.6 -3.948807 -6.799216 -5.374012 -5.374012 
C -6.799216 -3.948807 -7.6 -2.015544 -7.6 0 
C -7.6 2.015544 -6.799216 3.948807 -5.374012 5.374012 
C -3.948807 6.799216 -2.015544 7.6 0 7.6 
z
" transform="translate(1101.291508 494.319436)" style="fill: #03c0ae; fill-opacity: 0.9; stroke: #000000; stroke-opacity: 0.9; stroke-width: 1.8"/>
     <path d="M 0 7.6 
C 2.015544 7.6 3.948807 6.799216 5.374012 5.374012 
C 6.799216 3.948807 7.6 2.015544 7.6 0 
C 7.6 -2.015544 6.799216 -3.948807 5.374012 -5.374012 
C 3.948807 -6.799216 2.015544 -7.6 0 -7.6 
C -2.015544 -7.6 -3.948807 -6.799216 -5.374012 -5.374012 
C -6.799216 -3.948807 -7.6 -2.015544 -7.6 0 
C -7.6 2.015544 -6.799216 3.948807 -5.374012 5.374012 
C -3.948807 6.799216 -2.015544 7.6 0 7.6 
z
" transform="translate(1126.967107 486.331386)" style="fill: #03c0ae; fill-opacity: 0.9; stroke: #000000; stroke-opacity: 0.9; stroke-width: 1.8"/>
     <path d="M 0 7.6 
C 2.015544 7.6 3.948807 6.799216 5.374012 5.374012 
C 6.799216 3.948807 7.6 2.015544 7.6 0 
C 7.6 -2.015544 6.799216 -3.948807 5.374012 -5.374012 
C 3.948807 -6.799216 2.015544 -7.6 0 -7.6 
C -2.015544 -7.6 -3.948807 -6.799216 -5.374012 -5.374012 
C -6.799216 -3.948807 -7.6 -2.015544 -7.6 0 
C -7.6 2.015544 -6.799216 3.948807 -5.374012 5.374012 
C -3.948807 6.799216 -2.015544 7.6 0 7.6 
z
" transform="translate(1152.642705 472.951183)" style="fill: #03c0ae; fill-opacity: 0.9; stroke: #000000; stroke-opacity: 0.9; stroke-width: 1.8"/>
     <path d="M 0 7.6 
C 2.015544 7.6 3.948807 6.799216 5.374012 5.374012 
C 6.799216 3.948807 7.6 2.015544 7.6 0 
C 7.6 -2.015544 6.799216 -3.948807 5.374012 -5.374012 
C 3.948807 -6.799216 2.015544 -7.6 0 -7.6 
C -2.015544 -7.6 -3.948807 -6.799216 -5.374012 -5.374012 
C -6.799216 -3.948807 -7.6 -2.015544 -7.6 0 
C -7.6 2.015544 -6.799216 3.948807 -5.374012 5.374012 
C -3.948807 6.799216 -2.015544 7.6 0 7.6 
z
" transform="translate(1178.318304 452.563366)" style="fill: #03c0ae; fill-opacity: 0.9; stroke: #000000; stroke-opacity: 0.9; stroke-width: 1.8"/>
     <path d="M 0 7.6 
C 2.015544 7.6 3.948807 6.799216 5.374012 5.374012 
C 6.799216 3.948807 7.6 2.015544 7.6 0 
C 7.6 -2.015544 6.799216 -3.948807 5.374012 -5.374012 
C 3.948807 -6.799216 2.015544 -7.6 0 -7.6 
C -2.015544 -7.6 -3.948807 -6.799216 -5.374012 -5.374012 
C -6.799216 -3.948807 -7.6 -2.015544 -7.6 0 
C -7.6 2.015544 -6.799216 3.948807 -5.374012 5.374012 
C -3.948807 6.799216 -2.015544 7.6 0 7.6 
z
" transform="translate(1203.993903 425.390789)" style="fill: #03c0ae; fill-opacity: 0.9; stroke: #000000; stroke-opacity: 0.9; stroke-width: 1.8"/>
     <path d="M 0 7.6 
C 2.015544 7.6 3.948807 6.799216 5.374012 5.374012 
C 6.799216 3.948807 7.6 2.015544 7.6 0 
C 7.6 -2.015544 6.799216 -3.948807 5.374012 -5.374012 
C 3.948807 -6.799216 2.015544 -7.6 0 -7.6 
C -2.015544 -7.6 -3.948807 -6.799216 -5.374012 -5.374012 
C -6.799216 -3.948807 -7.6 -2.015544 -7.6 0 
C -7.6 2.015544 -6.799216 3.948807 -5.374012 5.374012 
C -3.948807 6.799216 -2.015544 7.6 0 7.6 
z
" transform="translate(1229.669502 392.37543)" style="fill: #03c0ae; fill-opacity: 0.9; stroke: #000000; stroke-opacity: 0.9; stroke-width: 1.8"/>
     <path d="M 0 7.6 
C 2.015544 7.6 3.948807 6.799216 5.374012 5.374012 
C 6.799216 3.948807 7.6 2.015544 7.6 0 
C 7.6 -2.015544 6.799216 -3.948807 5.374012 -5.374012 
C 3.948807 -6.799216 2.015544 -7.6 0 -7.6 
C -2.015544 -7.6 -3.948807 -6.799216 -5.374012 -5.374012 
C -6.799216 -3.948807 -7.6 -2.015544 -7.6 0 
C -7.6 2.015544 -6.799216 3.948807 -5.374012 5.374012 
C -3.948807 6.799216 -2.015544 7.6 0 7.6 
z
" transform="translate(1255.345101 352.32187)" style="fill: #03c0ae; fill-opacity: 0.9; stroke: #000000; stroke-opacity: 0.9; stroke-width: 1.8"/>
     <path d="M 0 7.6 
C 2.015544 7.6 3.948807 6.799216 5.374012 5.374012 
C 6.799216 3.948807 7.6 2.015544 7.6 0 
C 7.6 -2.015544 6.799216 -3.948807 5.374012 -5.374012 
C 3.948807 -6.799216 2.015544 -7.6 0 -7.6 
C -2.015544 -7.6 -3.948807 -6.799216 -5.374012 -5.374012 
C -6.799216 -3.948807 -7.6 -2.015544 -7.6 0 
C -7.6 2.015544 -6.799216 3.948807 -5.374012 5.374012 
C -3.948807 6.799216 -2.015544 7.6 0 7.6 
z
" transform="translate(1281.020699 307.602878)" style="fill: #03c0ae; fill-opacity: 0.9; stroke: #000000; stroke-opacity: 0.9; stroke-width: 1.8"/>
     <path d="M 0 7.6 
C 2.015544 7.6 3.948807 6.799216 5.374012 5.374012 
C 6.799216 3.948807 7.6 2.015544 7.6 0 
C 7.6 -2.015544 6.799216 -3.948807 5.374012 -5.374012 
C 3.948807 -6.799216 2.015544 -7.6 0 -7.6 
C -2.015544 -7.6 -3.948807 -6.799216 -5.374012 -5.374012 
C -6.799216 -3.948807 -7.6 -2.015544 -7.6 0 
C -7.6 2.015544 -6.799216 3.948807 -5.374012 5.374012 
C -3.948807 6.799216 -2.015544 7.6 0 7.6 
z
" transform="translate(1306.696298 261.584199)" style="fill: #03c0ae; fill-opacity: 0.9; stroke: #000000; stroke-opacity: 0.9; stroke-width: 1.8"/>
     <path d="M 0 7.6 
C 2.015544 7.6 3.948807 6.799216 5.374012 5.374012 
C 6.799216 3.948807 7.6 2.015544 7.6 0 
C 7.6 -2.015544 6.799216 -3.948807 5.374012 -5.374012 
C 3.948807 -6.799216 2.015544 -7.6 0 -7.6 
C -2.015544 -7.6 -3.948807 -6.799216 -5.374012 -5.374012 
C -6.799216 -3.948807 -7.6 -2.015544 -7.6 0 
C -7.6 2.015544 -6.799216 3.948807 -5.374012 5.374012 
C -3.948807 6.799216 -2.015544 7.6 0 7.6 
z
" transform="translate(1332.371897 216.591534)" style="fill: #03c0ae; fill-opacity: 0.9; stroke: #000000; stroke-opacity: 0.9; stroke-width: 1.8"/>
     <path d="M 0 7.6 
C 2.015544 7.6 3.948807 6.799216 5.374012 5.374012 
C 6.799216 3.948807 7.6 2.015544 7.6 0 
C 7.6 -2.015544 6.799216 -3.948807 5.374012 -5.374012 
C 3.948807 -6.799216 2.015544 -7.6 0 -7.6 
C -2.015544 -7.6 -3.948807 -6.799216 -5.374012 -5.374012 
C -6.799216 -3.948807 -7.6 -2.015544 -7.6 0 
C -7.6 2.015544 -6.799216 3.948807 -5.374012 5.374012 
C -3.948807 6.799216 -2.015544 7.6 0 7.6 
z
" transform="translate(1358.047496 171.883874)" style="fill: #03c0ae; fill-opacity: 0.9; stroke: #000000; stroke-opacity: 0.9; stroke-width: 1.8"/>
     <path d="M 0 7.6 
C 2.015544 7.6 3.948807 6.799216 5.374012 5.374012 
C 6.799216 3.948807 7.6 2.015544 7.6 0 
C 7.6 -2.015544 6.799216 -3.948807 5.374012 -5.374012 
C 3.948807 -6.799216 2.015544 -7.6 0 -7.6 
C -2.015544 -7.6 -3.948807 -6.799216 -5.374012 -5.374012 
C -6.799216 -3.948807 -7.6 -2.015544 -7.6 0 
C -7.6 2.015544 -6.799216 3.948807 -5.374012 5.374012 
C -3.948807 6.799216 -2.015544 7.6 0 7.6 
z
" transform="translate(1383.723095 116.498056)" style="fill: #03c0ae; fill-opacity: 0.9; stroke: #000000; stroke-opacity: 0.9; stroke-width: 1.8"/>
     <path d="M 0 7.6 
C 2.015544 7.6 3.948807 6.799216 5.374012 5.374012 
C 6.799216 3.948807 7.6 2.015544 7.6 0 
C 7.6 -2.015544 6.799216 -3.948807 5.374012 -5.374012 
C 3.948807 -6.799216 2.015544 -7.6 0 -7.6 
C -2.015544 -7.6 -3.948807 -6.799216 -5.374012 -5.374012 
C -6.799216 -3.948807 -7.6 -2.015544 -7.6 0 
C -7.6 2.015544 -6.799216 3.948807 -5.374012 5.374012 
C -3.948807 6.799216 -2.015544 7.6 0 7.6 
z
" transform="translate(1409.398693 66.299315)" style="fill: #03c0ae; fill-opacity: 0.9; stroke: #000000; stroke-opacity: 0.9; stroke-width: 1.8"/>
     <path d="M 0 7.6 
C 2.015544 7.6 3.948807 6.799216 5.374012 5.374012 
C 6.799216 3.948807 7.6 2.015544 7.6 0 
C 7.6 -2.015544 6.799216 -3.948807 5.374012 -5.374012 
C 3.948807 -6.799216 2.015544 -7.6 0 -7.6 
C -2.015544 -7.6 -3.948807 -6.799216 -5.374012 -5.374012 
C -6.799216 -3.948807 -7.6 -2.015544 -7.6 0 
C -7.6 2.015544 -6.799216 3.948807 -5.374012 5.374012 
C -3.948807 6.799216 -2.015544 7.6 0 7.6 
z
" transform="translate(1435.074292 113.249008)" style="fill: #03c0ae; fill-opacity: 0.9; stroke: #000000; stroke-opacity: 0.9; stroke-width: 1.8"/>
     <path d="M 0 7.6 
C 2.015544 7.6 3.948807 6.799216 5.374012 5.374012 
C 6.799216 3.948807 7.6 2.015544 7.6 0 
C 7.6 -2.015544 6.799216 -3.948807 5.374012 -5.374012 
C 3.948807 -6.799216 2.015544 -7.6 0 -7.6 
C -2.015544 -7.6 -3.948807 -6.799216 -5.374012 -5.374012 
C -6.799216 -3.948807 -7.6 -2.015544 -7.6 0 
C -7.6 2.015544 -6.799216 3.948807 -5.374012 5.374012 
C -3.948807 6.799216 -2.015544 7.6 0 7.6 
z
" transform="translate(1460.749891 177.73596)" style="fill: #03c0ae; fill-opacity: 0.9; stroke: #000000; stroke-opacity: 0.9; stroke-width: 1.8"/>
    </g>
   </g>
   <g id="legend_2">
    <g id="patch_13">
     <path d="M 1057.955 182.761312 
L 1344.164 182.761312 
Q 1348.294 182.761312 1348.294 178.631312 
L 1348.294 59.455 
Q 1348.294 55.325 1344.164 55.325 
L 1057.955 55.325 
Q 1053.825 55.325 1053.825 59.455 
L 1053.825 178.631312 
Q 1053.825 182.761312 1057.955 182.761312 
z
" style="fill: #ffffff; opacity: 0.8; stroke: #cccccc; stroke-width: 1.66; stroke-linejoin: miter"/>
    </g>
    <g id="line2d_102">
     <path d="M 1062.085 72.048273 
L 1082.735 72.048273 
L 1103.385 72.048273 
" style="fill: none; stroke: #000000; stroke-opacity: 0.9; stroke-width: 2.4; stroke-linecap: square"/>
    </g>
    <g id="text_29">
     <text style="font-size: 20.65px; font-family: 'DejaVu Sans'; text-anchor: start" x="1119.905" y="79.275773" transform="rotate(-0 1119.905 79.275773)">Local rate</text>
    </g>
    <g id="line2d_103">
     <path d="M 1062.085 102.358602 
L 1082.735 102.358602 
L 1103.385 102.358602 
" style="fill: none; stroke-dasharray: 18.56,4.64,2.9,4.64; stroke-dashoffset: 0; stroke: #000000; stroke-width: 2.9"/>
    </g>
    <g id="text_30">
     
     <g transform="translate(1119.905 109.586102)">
      <text>
       <tspan x="0" y="-0.046875" style="font-size: 20.65px; font-family: 'DejaVu Sans'">C</tspan>
       <tspan x="14.401245" y="-0.046875" style="font-size: 20.65px; font-family: 'DejaVu Sans'">r</tspan>
       <tspan x="22.880859" y="-0.046875" style="font-size: 20.65px; font-family: 'DejaVu Sans'">i</tspan>
       <tspan x="28.611145" y="-0.046875" style="font-size: 20.65px; font-family: 'DejaVu Sans'">t</tspan>
       <tspan x="36.697998" y="-0.046875" style="font-size: 20.65px; font-family: 'DejaVu Sans'">i</tspan>
       <tspan x="42.428284" y="-0.046875" style="font-size: 20.65px; font-family: 'DejaVu Sans'">c</tspan>
       <tspan x="53.768005" y="-0.046875" style="font-size: 20.65px; font-family: 'DejaVu Sans'">a</tspan>
       <tspan x="66.40686" y="-0.046875" style="font-size: 20.65px; font-family: 'DejaVu Sans'">l</tspan>
       <tspan x="72.137146" y="-0.046875" style="font-size: 20.65px; font-family: 'DejaVu Sans'"> </tspan>
       <tspan x="78.693237" y="-0.046875" style="font-size: 20.65px; font-family: 'DejaVu Sans'">t</tspan>
       <tspan x="86.78009" y="-0.046875" style="font-size: 20.65px; font-family: 'DejaVu Sans'">i</tspan>
       <tspan x="92.510376" y="-0.046875" style="font-size: 20.65px; font-family: 'DejaVu Sans'">m</tspan>
       <tspan x="112.601624" y="-0.046875" style="font-size: 20.65px; font-family: 'DejaVu Sans'">e</tspan>
       <tspan x="125.290833" y="-0.046875" style="font-size: 20.65px; font-family: 'DejaVu Sans'"> </tspan>
       <tspan x="152.46405" y="-0.046875" style="font-size: 20.65px; font-family: 'DejaVu Sans'">=</tspan>
       <tspan x="173.763794" y="-0.046875" style="font-size: 20.65px; font-family: 'DejaVu Sans'">1</tspan>
       <tspan x="186.886047" y="-0.046875" style="font-size: 20.65px; font-family: 'DejaVu Sans'">.</tspan>
       <tspan x="193.442139" y="-0.046875" style="font-size: 20.65px; font-family: 'DejaVu Sans'">5</tspan>
       <tspan x="206.564392" y="-0.046875" style="font-size: 20.65px; font-family: 'DejaVu Sans'">8</tspan>
       <tspan x="131.846924" y="-0.046875" style="font-style: oblique; font-size: 20.65px; font-family: 'DejaVu Sans'">t</tspan>
       <tspan x="139.933777" y="3.398438" style="font-style: oblique; font-size: 14.455px; font-family: 'DejaVu Sans'">c</tspan>
      </text>
     </g>
    </g>
    <g id="line2d_104">
     <g>
      <path d="M 0 7.6 
C 2.015544 7.6 3.948807 6.799216 5.374012 5.374012 
C 6.799216 3.948807 7.6 2.015544 7.6 0 
C 7.6 -2.015544 6.799216 -3.948807 5.374012 -5.374012 
C 3.948807 -6.799216 2.015544 -7.6 0 -7.6 
C -2.015544 -7.6 -3.948807 -6.799216 -5.374012 -5.374012 
C -6.799216 -3.948807 -7.6 -2.015544 -7.6 0 
C -7.6 2.015544 -6.799216 3.948807 -5.374012 5.374012 
C -3.948807 6.799216 -2.015544 7.6 0 7.6 
z
" transform="translate(1082.735 132.66893)" style="fill: #e64b35; fill-opacity: 0.9; stroke: #000000; stroke-opacity: 0.9; stroke-width: 1.8"/>
     </g>
    </g>
    <g id="text_31">
     <text style="font-size: 20.65px; font-family: 'DejaVu Sans'; text-anchor: start" x="1119.905" y="139.89643" transform="rotate(-0 1119.905 139.89643)">Standard PF2</text>
    </g>
    <g id="line2d_105">
     <g>
      <path d="M 0 7.6 
C 2.015544 7.6 3.948807 6.799216 5.374012 5.374012 
C 6.799216 3.948807 7.6 2.015544 7.6 0 
C 7.6 -2.015544 6.799216 -3.948807 5.374012 -5.374012 
C 3.948807 -6.799216 2.015544 -7.6 0 -7.6 
C -2.015544 -7.6 -3.948807 -6.799216 -5.374012 -5.374012 
C -6.799216 -3.948807 -7.6 -2.015544 -7.6 0 
C -7.6 2.015544 -6.799216 3.948807 -5.374012 5.374012 
C -3.948807 6.799216 -2.015544 7.6 0 7.6 
z
" transform="translate(1082.735 162.979258)" style="fill: #03c0ae; fill-opacity: 0.9; stroke: #000000; stroke-opacity: 0.9; stroke-width: 1.8"/>
     </g>
    </g>
    <g id="text_32">
     <text style="font-size: 20.65px; font-family: 'DejaVu Sans'; text-anchor: start" x="1119.905" y="170.206758" transform="rotate(-0 1119.905 170.206758)">Reduced PF2 (Alg.1)</text>
    </g>
   </g>
  </g>
  <g id="axes_3">
   <g id="patch_14">
    <path d="M 1326.35 461.3 
L 1739.65 461.3 
L 1739.65 290.5 
L 1326.35 290.5 
z
" style="fill: #ffffff"/>
   </g>
   <g id="matplotlib.axis_5">
    <g id="xtick_25">
     <g id="line2d_106">
      <g>
       <path d="M 0 0 
L 0 4.5 
" transform="translate(1345.136364 461.3)" style="stroke: #000000; stroke-width: 2.6"/>
      </g>
     </g>
     <g id="text_33">
      <text style="font-size: 23.7px; font-family: 'DejaVu Sans'; text-anchor: middle" x="1345.136364" y="488.308297" transform="rotate(-0 1345.136364 488.308297)">0</text>
     </g>
    </g>
    <g id="xtick_26">
     <g id="line2d_107">
      <g>
       <path d="M 0 0 
L 0 4.5 
" transform="translate(1470.378788 461.3)" style="stroke: #000000; stroke-width: 2.6"/>
      </g>
     </g>
     <g id="text_34">
      <text style="font-size: 23.7px; font-family: 'DejaVu Sans'; text-anchor: middle" x="1470.378788" y="488.308297" transform="rotate(-0 1470.378788 488.308297)">1</text>
     </g>
    </g>
    <g id="xtick_27">
     <g id="line2d_108">
      <g>
       <path d="M 0 0 
L 0 4.5 
" transform="translate(1595.621212 461.3)" style="stroke: #000000; stroke-width: 2.6"/>
      </g>
     </g>
     <g id="text_35">
      <text style="font-size: 23.7px; font-family: 'DejaVu Sans'; text-anchor: middle" x="1595.621212" y="488.308297" transform="rotate(-0 1595.621212 488.308297)">2</text>
     </g>
    </g>
    <g id="xtick_28">
     <g id="line2d_109">
      <g>
       <path d="M 0 0 
L 0 4.5 
" transform="translate(1720.863636 461.3)" style="stroke: #000000; stroke-width: 2.6"/>
      </g>
     </g>
     <g id="text_36">
      <text style="font-size: 23.7px; font-family: 'DejaVu Sans'; text-anchor: middle" x="1720.863636" y="488.308297" transform="rotate(-0 1720.863636 488.308297)">3</text>
     </g>
    </g>
    <g id="text_37">
     
     <g transform="translate(1433.87 513.913563)">
      <text>
       <tspan x="0" y="-0.53125" style="font-size: 23px; font-family: 'DejaVu Sans'">S</tspan>
       <tspan x="14.599609" y="-0.53125" style="font-size: 23px; font-family: 'DejaVu Sans'">i</tspan>
       <tspan x="20.989746" y="-0.53125" style="font-size: 23px; font-family: 'DejaVu Sans'">m</tspan>
       <tspan x="43.394531" y="-0.53125" style="font-size: 23px; font-family: 'DejaVu Sans'">u</tspan>
       <tspan x="57.97168" y="-0.53125" style="font-size: 23px; font-family: 'DejaVu Sans'">l</tspan>
       <tspan x="64.361816" y="-0.53125" style="font-size: 23px; font-family: 'DejaVu Sans'">a</tspan>
       <tspan x="78.456055" y="-0.53125" style="font-size: 23px; font-family: 'DejaVu Sans'">t</tspan>
       <tspan x="87.474121" y="-0.53125" style="font-size: 23px; font-family: 'DejaVu Sans'">i</tspan>
       <tspan x="93.864258" y="-0.53125" style="font-size: 23px; font-family: 'DejaVu Sans'">o</tspan>
       <tspan x="107.936035" y="-0.53125" style="font-size: 23px; font-family: 'DejaVu Sans'">n</tspan>
       <tspan x="122.513184" y="-0.53125" style="font-size: 23px; font-family: 'DejaVu Sans'"> </tspan>
       <tspan x="129.824219" y="-0.53125" style="font-size: 23px; font-family: 'DejaVu Sans'">t</tspan>
       <tspan x="138.842285" y="-0.53125" style="font-size: 23px; font-family: 'DejaVu Sans'">i</tspan>
       <tspan x="145.232422" y="-0.53125" style="font-size: 23px; font-family: 'DejaVu Sans'">m</tspan>
       <tspan x="167.637207" y="-0.53125" style="font-size: 23px; font-family: 'DejaVu Sans'">e</tspan>
       <tspan x="181.787598" y="-0.53125" style="font-size: 23px; font-family: 'DejaVu Sans'"> </tspan>
       <tspan x="189.098633" y="-0.53125" style="font-style: oblique; font-size: 23px; font-family: 'DejaVu Sans'">t</tspan>
      </text>
     </g>
    </g>
   </g>
   <g id="matplotlib.axis_6">
    <g id="ytick_40">
     <g id="line2d_110">
      <g>
       <path d="M 0 0 
L -4.5 0 
" transform="translate(1326.35 453.536364)" style="stroke: #000000; stroke-width: 2.6"/>
      </g>
     </g>
     <g id="text_38">
      <text style="font-size: 23.7px; font-family: 'DejaVu Sans'; text-anchor: end" x="1318.35" y="462.540512" transform="rotate(-0 1318.35 462.540512)">0</text>
     </g>
    </g>
    <g id="ytick_41">
     <g id="line2d_111">
      <g>
       <path d="M 0 0 
L -4.5 0 
" transform="translate(1326.35 385.073962)" style="stroke: #000000; stroke-width: 2.6"/>
      </g>
     </g>
     <g id="text_39">
      <text style="font-size: 23.7px; font-family: 'DejaVu Sans'; text-anchor: end" x="1318.35" y="394.07811" transform="rotate(-0 1318.35 394.07811)">1</text>
     </g>
    </g>
    <g id="ytick_42">
     <g id="line2d_112">
      <g>
       <path d="M 0 0 
L -4.5 0 
" transform="translate(1326.35 316.61156)" style="stroke: #000000; stroke-width: 2.6"/>
      </g>
     </g>
     <g id="text_40">
      <text style="font-size: 23.7px; font-family: 'DejaVu Sans'; text-anchor: end" x="1318.35" y="325.615708" transform="rotate(-0 1318.35 325.615708)">2</text>
     </g>
    </g>
   </g>
   <g id="line2d_113">
    <path d="M 1345.136364 453.529798 
L 1350.772273 453.330393 
L 1356.408182 452.887751 
L 1361.417879 452.282707 
L 1366.427576 451.471838 
L 1371.437273 450.448728 
L 1376.44697 449.206957 
L 1381.456667 447.740109 
L 1386.466364 446.041494 
L 1391.476061 444.102051 
L 1396.485758 441.911502 
L 1401.495455 439.459555 
L 1406.505152 436.735922 
L 1411.514848 433.730313 
L 1416.524545 430.432437 
L 1421.534242 426.832094 
L 1426.543939 422.929739 
L 1431.553636 418.746532 
L 1437.189545 413.734023 
L 1442.825455 408.42936 
L 1449.087576 402.233401 
L 1455.975909 395.103908 
L 1464.116667 386.340316 
L 1477.267121 371.779206 
L 1489.791364 358.003674 
L 1497.932121 349.384482 
L 1507.951515 338.846464 
L 1512.335 333.926285 
L 1516.092273 329.419471 
L 1519.849545 324.561087 
L 1523.606818 319.303221 
L 1534.878636 303.158005 
L 1536.757273 300.954692 
L 1538.009697 299.77277 
L 1539.262121 298.896912 
L 1540.514545 298.38242 
L 1541.76697 298.24351 
L 1543.019394 298.484131 
L 1544.271818 299.108228 
L 1545.524242 300.119747 
L 1546.776667 301.508653 
L 1548.029091 303.208976 
L 1549.907727 306.168477 
L 1556.169848 316.55767 
L 1559.300909 321.153063 
L 1563.058182 326.253178 
L 1568.694091 333.452308 
L 1574.956212 341.113446 
L 1581.844545 349.18513 
L 1589.359091 357.621608 
L 1596.873636 365.726441 
L 1604.388182 373.521174 
L 1612.528939 381.630767 
L 1620.669697 389.408548 
L 1628.810455 396.871029 
L 1636.325 403.470602 
L 1643.213333 409.228887 
L 1649.475455 414.181367 
L 1655.111364 418.378718 
L 1660.747273 422.303346 
L 1665.75697 425.542282 
L 1670.766667 428.52757 
L 1675.776364 431.245782 
L 1680.786061 433.701606 
L 1685.795758 435.904259 
L 1690.805455 437.86296 
L 1695.815152 439.586927 
L 1700.824848 441.085378 
L 1705.834545 442.36753 
L 1710.844242 443.442602 
L 1716.480152 444.41601 
L 1720.863636 445.008377 
L 1720.863636 445.008377 
" clip-path="url(#pc96ad81d6f)" style="fill: none; stroke: #000000; stroke-opacity: 0.9; stroke-width: 3.1; stroke-linecap: square"/>
   </g>
   <g id="line2d_114">
    <path d="M 1345.136364 453.569276 
L 1351.398485 453.256105 
L 1357.034394 452.770203 
L 1362.670303 452.065419 
L 1368.306212 451.117091 
L 1373.315909 450.04974 
L 1378.325606 448.753154 
L 1383.335303 447.210019 
L 1388.345 445.406694 
L 1393.354697 443.339697 
L 1398.364394 441.007281 
L 1403.374091 438.407704 
L 1408.383788 435.539219 
L 1413.393485 432.400082 
L 1418.403182 428.988549 
L 1423.412879 425.303563 
L 1428.422576 421.353414 
L 1434.058485 416.611261 
L 1439.694394 411.574136 
L 1445.956515 405.657655 
L 1452.218636 399.433367 
L 1469.752576 381.683927 
L 1474.136061 377.672508 
L 1479.145758 373.395512 
L 1484.781667 368.898182 
L 1491.67 363.724355 
L 1498.558333 358.825533 
L 1504.820455 354.627656 
L 1511.082576 350.69252 
L 1519.223333 345.870587 
L 1531.747576 338.470887 
L 1536.131061 335.587076 
L 1539.888333 332.814381 
L 1543.645606 329.95673 
L 1545.524242 328.777026 
L 1546.776667 328.170213 
L 1548.029091 327.751615 
L 1549.281515 327.559364 
L 1549.907727 327.560036 
L 1552.412576 328.615184 
L 1556.796061 330.603568 
L 1559.927121 332.265858 
L 1562.43197 333.846992 
L 1564.936818 335.727791 
L 1567.441667 337.937913 
L 1569.946515 340.427902 
L 1573.077576 343.84476 
L 1577.461061 348.991613 
L 1586.22803 359.412549 
L 1591.863939 365.671515 
L 1598.126061 372.259642 
L 1605.640606 379.801304 
L 1615.033788 388.896855 
L 1622.548333 395.881857 
L 1628.810455 401.416262 
L 1634.446364 406.116285 
L 1639.456061 410.030252 
L 1644.465758 413.673156 
L 1650.101667 417.48344 
L 1656.363788 421.427732 
L 1663.878333 425.867734 
L 1674.523939 431.857249 
L 1681.412273 435.526485 
L 1686.42197 437.957674 
L 1690.805455 439.844644 
L 1694.562727 441.237704 
L 1698.32 442.389823 
L 1702.077273 443.320414 
L 1707.08697 444.307413 
L 1714.601515 445.499432 
L 1720.863636 446.498429 
L 1720.863636 446.498429 
" clip-path="url(#pc96ad81d6f)" style="fill: none; stroke: #ffa500; stroke-opacity: 0.9; stroke-width: 3.1; stroke-linecap: square"/>
   </g>
   <g id="line2d_115">
    <path d="M 1542.480852 461.3 
L 1542.480852 290.5 
" clip-path="url(#pc96ad81d6f)" style="fill: none; stroke-dasharray: 14.464,3.616,2.26,3.616; stroke-dashoffset: 0; stroke: #000000; stroke-width: 2.26"/>
   </g>
   <g id="line2d_116">
    <path d="M 1549.995397 461.3 
L 1549.995397 290.5 
" clip-path="url(#pc96ad81d6f)" style="fill: none; stroke-dasharray: 14.464,3.616,2.26,3.616; stroke-dashoffset: 0; stroke: #ffa500; stroke-width: 2.26"/>
   </g>
   <g id="patch_15">
    <path d="M 1326.35 461.3 
L 1326.35 290.5 
" style="fill: none; stroke: #000000; stroke-width: 2.7; stroke-linejoin: miter; stroke-linecap: square"/>
   </g>
   <g id="patch_16">
    <path d="M 1739.65 461.3 
L 1739.65 290.5 
" style="fill: none; stroke: #000000; stroke-width: 2.7; stroke-linejoin: miter; stroke-linecap: square"/>
   </g>
   <g id="patch_17">
    <path d="M 1326.35 461.3 
L 1739.65 461.3 
" style="fill: none; stroke: #000000; stroke-width: 2.7; stroke-linejoin: miter; stroke-linecap: square"/>
   </g>
   <g id="patch_18">
    <path d="M 1326.35 290.5 
L 1739.65 290.5 
" style="fill: none; stroke: #000000; stroke-width: 2.7; stroke-linejoin: miter; stroke-linecap: square"/>
   </g>
   <g id="text_41">
    <text style="font-size: 30px; font-family: 'DejaVu Sans'; text-anchor: middle" x="1533" y="284.260938" transform="rotate(-0 1533 284.260938)">Ideal vs. Local Rates</text>
   </g>
   <g id="legend_3">
    <g id="patch_19">
     <path d="M 1340.805 367.640656 
L 1464.259734 367.640656 
Q 1468.389734 367.640656 1468.389734 363.510656 
L 1468.389734 304.955 
Q 1468.389734 300.825 1464.259734 300.825 
L 1340.805 300.825 
Q 1336.675 300.825 1336.675 304.955 
L 1336.675 363.510656 
Q 1336.675 367.640656 1340.805 367.640656 
z
" style="fill: #ffffff; opacity: 0.8; stroke: #cccccc; stroke-width: 1.66; stroke-linejoin: miter"/>
    </g>
    <g id="line2d_117">
     <path d="M 1344.935 317.548273 
L 1365.585 317.548273 
L 1386.235 317.548273 
" style="fill: none; stroke: #000000; stroke-opacity: 0.9; stroke-width: 3.1; stroke-linecap: square"/>
    </g>
    <g id="text_42">
     <text style="font-size: 20.65px; font-family: 'DejaVu Sans'; text-anchor: start" x="1402.755" y="324.775773" transform="rotate(-0 1402.755 324.775773)">Local</text>
    </g>
    <g id="line2d_118">
     <path d="M 1344.935 347.858602 
L 1365.585 347.858602 
L 1386.235 347.858602 
" style="fill: none; stroke: #ffa500; stroke-opacity: 0.9; stroke-width: 3.1; stroke-linecap: square"/>
    </g>
    <g id="text_43">
     <text style="font-size: 20.65px; font-family: 'DejaVu Sans'; text-anchor: start" x="1402.755" y="355.086102" transform="rotate(-0 1402.755 355.086102)">Exact</text>
    </g>
   </g>
  </g>
  <g id="text_44">
   <text style="font-weight: 700; font-size: 28.3px; font-family: 'DejaVu Sans'; text-anchor: start" x="11.8" y="21" transform="rotate(-0 11.8 21)">(a)</text>
  </g>
  <g id="text_45">
   <text style="font-weight: 700; font-size: 28.3px; font-family: 'DejaVu Sans'; text-anchor: start" x="958" y="21" transform="rotate(-0 958 21)">(b)</text>
  </g>
 </g>
 <defs>
  <clipPath id="p42ef47f563">
   <rect x="96.66" y="45" width="706.55" height="474"/>
  </clipPath>
  <clipPath id="p05086c891c">
   <rect x="1043.5" y="45" width="706.55" height="474"/>
  </clipPath>
  <clipPath id="pc96ad81d6f">
   <rect x="1326.35" y="290.5" width="413.3" height="170.8"/>
  </clipPath>
 </defs>
<g id="olabels"><text style="font-family:'DejaVu Sans';font-size:29.8px"><tspan x="804.8" y="71.8" style="font-style:oblique">O</tspan><tspan x="828.15" y="71.8">(</tspan><tspan x="840.05" y="71.8" style="font-style:oblique">n</tspan><tspan x="859.8" y="60.60" style="font-size:21.4px">1.52</tspan><tspan x="907.65" y="71.8">)</tspan></text><text style="font-family:'DejaVu Sans';font-size:29.8px"><tspan x="804.8" y="168.0" style="font-style:oblique">O</tspan><tspan x="828.15" y="168.0">(</tspan><tspan x="840.05" y="168.0" style="font-style:oblique">n</tspan><tspan x="859.8" y="156.80" style="font-size:21.4px">1.00</tspan><tspan x="907.65" y="168.0">)</tspan></text><text style="font-family:'DejaVu Sans';font-size:29.8px"><tspan x="804.8" y="254.1" style="font-style:oblique">O</tspan><tspan x="828.15" y="254.1">(</tspan><tspan x="840.05" y="254.1" style="font-style:oblique">n</tspan><tspan x="859.8" y="242.90" style="font-size:21.4px">1.00</tspan><tspan x="907.65" y="254.1">)</tspan></text><text style="font-family:'DejaVu Sans';font-size:29.8px"><tspan x="804.8" y="418.0" style="font-style:oblique">O</tspan><tspan x="828.15" y="418.0">(</tspan><tspan x="840.05" y="418.0" style="font-style:oblique">n</tspan><tspan x="859.8" y="406.80" style="font-size:21.4px">0.00</tspan><tspan x="907.65" y="418.0">)</tspan></text><text style="font-family:'DejaVu Sans';font-size:29.8px"><tspan x="804.8" y="502.3" style="font-style:oblique">O</tspan><tspan x="828.15" y="502.3">(</tspan><tspan x="840.05" y="502.3" style="font-style:oblique">n</tspan><tspan x="859.8" y="491.10" style="font-size:21.4px">0.00</tspan><tspan x="907.65" y="502.3">)</tspan></text></g>
</svg>

</body></html>
